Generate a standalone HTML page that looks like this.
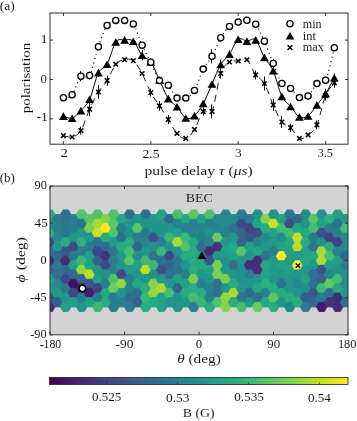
<!DOCTYPE html>
<html><head><meta charset="utf-8"><style>
html,body{margin:0;padding:0;background:#fff;width:357px;height:421px;overflow:hidden;}
svg{display:block;}
</style></head><body>
<svg width="357" height="421" viewBox="0 0 357 421" style="will-change:transform">
<rect width="357" height="421" fill="#fff"/>
<defs><clipPath id="cp1"><rect x="50" y="13" width="298" height="131.2"/></clipPath></defs>
<g clip-path="url(#cp1)">
<path d="M63.40 97.80 C64.86 97.28 69.23 98.30 72.14 94.70 C75.05 91.10 77.97 79.40 80.88 76.20 C83.79 73.00 86.71 80.40 89.62 75.50 C92.53 70.60 95.45 55.15 98.36 46.80 C101.27 38.45 104.19 29.80 107.10 25.40 C110.01 21.00 112.93 21.23 115.84 20.40 C118.75 19.57 121.67 19.80 124.58 20.40 C127.49 21.00 130.41 19.85 133.32 24.00 C136.23 28.15 139.15 38.93 142.06 45.30 C144.97 51.67 147.89 56.32 150.80 62.20 C153.71 68.08 156.63 76.75 159.54 80.60 C162.45 84.45 165.37 82.38 168.28 85.30 C171.19 88.22 174.11 95.97 177.02 98.10 C179.93 100.23 182.85 99.38 185.76 98.10 C188.67 96.82 191.59 95.23 194.50 90.40 C197.41 85.57 200.33 74.78 203.24 69.10 C206.15 63.42 209.07 61.52 211.98 56.30 C214.89 51.08 217.81 42.78 220.72 37.80 C223.63 32.82 226.55 29.02 229.46 26.40 C232.37 23.78 235.29 23.12 238.20 22.10 C241.11 21.08 244.03 19.95 246.94 20.30 C249.85 20.65 252.77 20.70 255.68 24.20 C258.59 27.70 261.51 34.77 264.42 41.30 C267.33 47.83 270.25 56.37 273.16 63.40 C276.07 70.43 278.99 79.33 281.90 83.50 C284.81 87.67 287.73 86.05 290.64 88.40 C293.55 90.75 296.47 96.33 299.38 97.60 C302.29 98.87 305.21 98.33 308.12 96.00 C311.03 93.67 313.95 86.22 316.86 83.60 C319.77 80.98 322.69 86.27 325.60 80.30 C328.51 74.33 332.88 53.22 334.34 47.80" fill="none" stroke="#000" stroke-width="1.1" stroke-dasharray="1.1 3.3" stroke-linecap="butt"/>
<path d="M63.40 116.10 C64.86 116.45 69.23 119.12 72.14 118.20 C75.05 117.28 77.97 113.77 80.88 110.60 C83.79 107.43 86.71 105.50 89.62 99.20 C92.53 92.90 95.45 78.63 98.36 72.80 C101.27 66.97 104.19 69.33 107.10 64.20 C110.01 59.07 112.93 46.05 115.84 42.00 C118.75 37.95 121.67 40.02 124.58 39.90 C127.49 39.78 130.41 38.73 133.32 41.30 C136.23 43.87 139.15 51.85 142.06 55.30 C144.97 58.75 147.89 57.88 150.80 62.00 C153.71 66.12 156.63 73.90 159.54 80.00 C162.45 86.10 165.37 94.13 168.28 98.60 C171.19 103.07 174.11 103.57 177.02 106.80 C179.93 110.03 182.85 116.53 185.76 118.00 C188.67 119.47 191.59 118.02 194.50 115.60 C197.41 113.18 200.33 108.77 203.24 103.50 C206.15 98.23 209.07 90.50 211.98 84.00 C214.89 77.50 217.81 69.47 220.72 64.50 C223.63 59.53 226.55 58.42 229.46 54.20 C232.37 49.98 235.29 41.38 238.20 39.20 C241.11 37.02 244.03 40.98 246.94 41.10 C249.85 41.22 252.77 37.18 255.68 39.90 C258.59 42.62 261.51 52.27 264.42 57.40 C267.33 62.53 270.25 64.20 273.16 70.70 C276.07 77.20 278.99 90.43 281.90 96.40 C284.81 102.37 287.73 103.07 290.64 106.50 C293.55 109.93 296.47 115.42 299.38 117.00 C302.29 118.58 305.21 118.00 308.12 116.00 C311.03 114.00 313.95 108.73 316.86 105.00 C319.77 101.27 322.69 98.15 325.60 93.60 C328.51 89.05 332.88 80.35 334.34 77.70" fill="none" stroke="#000" stroke-width="1"/>
<path d="M63.40 135.60 C64.86 135.83 69.23 137.83 72.14 137.00 C75.05 136.17 77.97 135.23 80.88 130.60 C83.79 125.97 86.71 115.63 89.62 109.20 C92.53 102.77 95.45 96.77 98.36 92.00 C101.27 87.23 104.19 85.23 107.10 80.60 C110.01 75.97 112.93 67.68 115.84 64.20 C118.75 60.72 121.67 60.28 124.58 59.70 C127.49 59.12 130.41 58.40 133.32 60.70 C136.23 63.00 139.15 68.20 142.06 73.50 C144.97 78.80 147.89 87.10 150.80 92.50 C153.71 97.90 156.63 101.40 159.54 105.90 C162.45 110.40 165.37 114.92 168.28 119.50 C171.19 124.08 174.11 130.25 177.02 133.40 C179.93 136.55 182.85 139.07 185.76 138.40 C188.67 137.73 191.59 133.90 194.50 129.40 C197.41 124.90 200.33 114.40 203.24 111.40 C206.15 108.40 209.07 117.72 211.98 111.40 C214.89 105.08 217.81 81.73 220.72 73.50 C223.63 65.27 226.55 64.08 229.46 62.00 C232.37 59.92 235.29 61.37 238.20 61.00 C241.11 60.63 244.03 57.48 246.94 59.80 C249.85 62.12 252.77 70.95 255.68 74.90 C258.59 78.85 261.51 78.50 264.42 83.50 C267.33 88.50 270.25 98.48 273.16 104.90 C276.07 111.32 278.99 118.20 281.90 122.00 C284.81 125.80 287.73 124.97 290.64 127.70 C293.55 130.43 296.47 137.20 299.38 138.40 C302.29 139.60 305.21 137.15 308.12 134.90 C311.03 132.65 313.95 131.45 316.86 124.90 C319.77 118.35 322.69 102.62 325.60 95.60 C328.51 88.58 332.88 84.93 334.34 82.80" fill="none" stroke="#000" stroke-width="0.9" stroke-dasharray="7 5"/>
<path d="M80.5 71.2V81.2 M89.5 71.5V79.5 M150.5 58.7V65.7 M211.5 49.3V63.3 M220.5 33.8V41.8 M273.5 58.9V67.9 M98.5 68.8V76.8 M142.5 50.3V60.3 M150.5 58.0V66.0 M220.5 59.5V69.5 M229.5 50.2V58.2 M325.5 88.6V98.6 M334.5 73.7V81.7 M80.5 126.6V134.6 M89.5 102.2V116.2 M98.5 85.0V99.0 M107.5 75.6V85.6 M150.5 88.5V96.5 M159.5 100.9V110.9 M168.5 115.0V124.0 M203.5 107.4V115.4 M211.5 104.4V118.4 M220.5 68.5V78.5 M255.5 70.4V79.4 M264.5 76.5V90.5 M273.5 98.9V110.9 M281.5 116.0V128.0 M290.5 123.7V131.7 M316.5 120.4V129.4 M325.5 90.6V100.6 M334.5 77.8V87.8" fill="none" stroke="#000" stroke-width="1"/>
</g>
<path d="M61.1 133.3L65.7 137.9M61.1 137.9L65.7 133.3" stroke="#000" stroke-width="1.5" fill="none"/>
<path d="M69.8 134.7L74.4 139.3M69.8 139.3L74.4 134.7" stroke="#000" stroke-width="1.5" fill="none"/>
<path d="M78.6 128.3L83.2 132.9M78.6 132.9L83.2 128.3" stroke="#000" stroke-width="1.5" fill="none"/>
<path d="M87.3 106.9L91.9 111.5M87.3 111.5L91.9 106.9" stroke="#000" stroke-width="1.5" fill="none"/>
<path d="M96.1 89.7L100.7 94.3M96.1 94.3L100.7 89.7" stroke="#000" stroke-width="1.5" fill="none"/>
<path d="M104.8 78.3L109.4 82.9M104.8 82.9L109.4 78.3" stroke="#000" stroke-width="1.5" fill="none"/>
<path d="M113.5 61.9L118.1 66.5M113.5 66.5L118.1 61.9" stroke="#000" stroke-width="1.5" fill="none"/>
<path d="M122.3 57.4L126.9 62.0M122.3 62.0L126.9 57.4" stroke="#000" stroke-width="1.5" fill="none"/>
<path d="M131.0 58.4L135.6 63.0M131.0 63.0L135.6 58.4" stroke="#000" stroke-width="1.5" fill="none"/>
<path d="M139.8 71.2L144.4 75.8M139.8 75.8L144.4 71.2" stroke="#000" stroke-width="1.5" fill="none"/>
<path d="M148.5 90.2L153.1 94.8M148.5 94.8L153.1 90.2" stroke="#000" stroke-width="1.5" fill="none"/>
<path d="M157.2 103.6L161.8 108.2M157.2 108.2L161.8 103.6" stroke="#000" stroke-width="1.5" fill="none"/>
<path d="M166.0 117.2L170.6 121.8M166.0 121.8L170.6 117.2" stroke="#000" stroke-width="1.5" fill="none"/>
<path d="M174.7 131.1L179.3 135.7M174.7 135.7L179.3 131.1" stroke="#000" stroke-width="1.5" fill="none"/>
<path d="M183.5 136.1L188.1 140.7M183.5 140.7L188.1 136.1" stroke="#000" stroke-width="1.5" fill="none"/>
<path d="M192.2 127.1L196.8 131.7M192.2 131.7L196.8 127.1" stroke="#000" stroke-width="1.5" fill="none"/>
<path d="M200.9 109.1L205.5 113.7M200.9 113.7L205.5 109.1" stroke="#000" stroke-width="1.5" fill="none"/>
<path d="M209.7 109.1L214.3 113.7M209.7 113.7L214.3 109.1" stroke="#000" stroke-width="1.5" fill="none"/>
<path d="M218.4 71.2L223.0 75.8M218.4 75.8L223.0 71.2" stroke="#000" stroke-width="1.5" fill="none"/>
<path d="M227.2 59.7L231.8 64.3M227.2 64.3L231.8 59.7" stroke="#000" stroke-width="1.5" fill="none"/>
<path d="M235.9 58.7L240.5 63.3M235.9 63.3L240.5 58.7" stroke="#000" stroke-width="1.5" fill="none"/>
<path d="M244.6 57.5L249.2 62.1M244.6 62.1L249.2 57.5" stroke="#000" stroke-width="1.5" fill="none"/>
<path d="M253.4 72.6L258.0 77.2M253.4 77.2L258.0 72.6" stroke="#000" stroke-width="1.5" fill="none"/>
<path d="M262.1 81.2L266.7 85.8M262.1 85.8L266.7 81.2" stroke="#000" stroke-width="1.5" fill="none"/>
<path d="M270.9 102.6L275.5 107.2M270.9 107.2L275.5 102.6" stroke="#000" stroke-width="1.5" fill="none"/>
<path d="M279.6 119.7L284.2 124.3M279.6 124.3L284.2 119.7" stroke="#000" stroke-width="1.5" fill="none"/>
<path d="M288.3 125.4L292.9 130.0M288.3 130.0L292.9 125.4" stroke="#000" stroke-width="1.5" fill="none"/>
<path d="M297.1 136.1L301.7 140.7M297.1 140.7L301.7 136.1" stroke="#000" stroke-width="1.5" fill="none"/>
<path d="M305.8 132.6L310.4 137.2M305.8 137.2L310.4 132.6" stroke="#000" stroke-width="1.5" fill="none"/>
<path d="M314.6 122.6L319.2 127.2M314.6 127.2L319.2 122.6" stroke="#000" stroke-width="1.5" fill="none"/>
<path d="M323.3 93.3L327.9 97.9M323.3 97.9L327.9 93.3" stroke="#000" stroke-width="1.5" fill="none"/>
<path d="M332.0 80.5L336.6 85.1M332.0 85.1L336.6 80.5" stroke="#000" stroke-width="1.5" fill="none"/>
<path d="M63.4 112.3L67.8 119.9L59.0 119.9Z" fill="#000"/>
<path d="M72.1 114.4L76.5 122.0L67.7 122.0Z" fill="#000"/>
<path d="M80.9 106.8L85.3 114.4L76.5 114.4Z" fill="#000"/>
<path d="M89.6 95.4L94.0 103.0L85.2 103.0Z" fill="#000"/>
<path d="M98.4 69.0L102.8 76.6L94.0 76.6Z" fill="#000"/>
<path d="M107.1 60.4L111.5 68.0L102.7 68.0Z" fill="#000"/>
<path d="M115.8 38.2L120.2 45.8L111.4 45.8Z" fill="#000"/>
<path d="M124.6 36.1L129.0 43.7L120.2 43.7Z" fill="#000"/>
<path d="M133.3 37.5L137.7 45.1L128.9 45.1Z" fill="#000"/>
<path d="M142.1 51.5L146.5 59.1L137.7 59.1Z" fill="#000"/>
<path d="M150.8 58.2L155.2 65.8L146.4 65.8Z" fill="#000"/>
<path d="M159.5 76.2L163.9 83.8L155.1 83.8Z" fill="#000"/>
<path d="M168.3 94.8L172.7 102.4L163.9 102.4Z" fill="#000"/>
<path d="M177.0 103.0L181.4 110.6L172.6 110.6Z" fill="#000"/>
<path d="M185.8 114.2L190.2 121.8L181.4 121.8Z" fill="#000"/>
<path d="M194.5 111.8L198.9 119.4L190.1 119.4Z" fill="#000"/>
<path d="M203.2 99.7L207.6 107.3L198.8 107.3Z" fill="#000"/>
<path d="M212.0 80.2L216.4 87.8L207.6 87.8Z" fill="#000"/>
<path d="M220.7 60.7L225.1 68.3L216.3 68.3Z" fill="#000"/>
<path d="M229.5 50.4L233.9 58.0L225.1 58.0Z" fill="#000"/>
<path d="M238.2 35.4L242.6 43.0L233.8 43.0Z" fill="#000"/>
<path d="M246.9 37.3L251.3 44.9L242.5 44.9Z" fill="#000"/>
<path d="M255.7 36.1L260.1 43.7L251.3 43.7Z" fill="#000"/>
<path d="M264.4 53.6L268.8 61.2L260.0 61.2Z" fill="#000"/>
<path d="M273.2 66.9L277.6 74.5L268.8 74.5Z" fill="#000"/>
<path d="M281.9 92.6L286.3 100.2L277.5 100.2Z" fill="#000"/>
<path d="M290.6 102.7L295.0 110.3L286.2 110.3Z" fill="#000"/>
<path d="M299.4 113.2L303.8 120.8L295.0 120.8Z" fill="#000"/>
<path d="M308.1 112.2L312.5 119.8L303.7 119.8Z" fill="#000"/>
<path d="M316.9 101.2L321.3 108.8L312.5 108.8Z" fill="#000"/>
<path d="M325.6 89.8L330.0 97.4L321.2 97.4Z" fill="#000"/>
<path d="M334.3 73.9L338.7 81.5L329.9 81.5Z" fill="#000"/>
<circle cx="63.4" cy="97.8" r="3.1" fill="#fff" stroke="#000" stroke-width="1.3"/>
<circle cx="72.1" cy="94.7" r="3.1" fill="#fff" stroke="#000" stroke-width="1.3"/>
<circle cx="80.9" cy="76.2" r="3.1" fill="#fff" stroke="#000" stroke-width="1.3"/>
<circle cx="89.6" cy="75.5" r="3.1" fill="#fff" stroke="#000" stroke-width="1.3"/>
<circle cx="98.4" cy="46.8" r="3.1" fill="#fff" stroke="#000" stroke-width="1.3"/>
<circle cx="107.1" cy="25.4" r="3.1" fill="#fff" stroke="#000" stroke-width="1.3"/>
<circle cx="115.8" cy="20.4" r="3.1" fill="#fff" stroke="#000" stroke-width="1.3"/>
<circle cx="124.6" cy="20.4" r="3.1" fill="#fff" stroke="#000" stroke-width="1.3"/>
<circle cx="133.3" cy="24.0" r="3.1" fill="#fff" stroke="#000" stroke-width="1.3"/>
<circle cx="142.1" cy="45.3" r="3.1" fill="#fff" stroke="#000" stroke-width="1.3"/>
<circle cx="150.8" cy="62.2" r="3.1" fill="#fff" stroke="#000" stroke-width="1.3"/>
<circle cx="159.5" cy="80.6" r="3.1" fill="#fff" stroke="#000" stroke-width="1.3"/>
<circle cx="168.3" cy="85.3" r="3.1" fill="#fff" stroke="#000" stroke-width="1.3"/>
<circle cx="177.0" cy="98.1" r="3.1" fill="#fff" stroke="#000" stroke-width="1.3"/>
<circle cx="185.8" cy="98.1" r="3.1" fill="#fff" stroke="#000" stroke-width="1.3"/>
<circle cx="194.5" cy="90.4" r="3.1" fill="#fff" stroke="#000" stroke-width="1.3"/>
<circle cx="203.2" cy="69.1" r="3.1" fill="#fff" stroke="#000" stroke-width="1.3"/>
<circle cx="212.0" cy="56.3" r="3.1" fill="#fff" stroke="#000" stroke-width="1.3"/>
<circle cx="220.7" cy="37.8" r="3.1" fill="#fff" stroke="#000" stroke-width="1.3"/>
<circle cx="229.5" cy="26.4" r="3.1" fill="#fff" stroke="#000" stroke-width="1.3"/>
<circle cx="238.2" cy="22.1" r="3.1" fill="#fff" stroke="#000" stroke-width="1.3"/>
<circle cx="246.9" cy="20.3" r="3.1" fill="#fff" stroke="#000" stroke-width="1.3"/>
<circle cx="255.7" cy="24.2" r="3.1" fill="#fff" stroke="#000" stroke-width="1.3"/>
<circle cx="264.4" cy="41.3" r="3.1" fill="#fff" stroke="#000" stroke-width="1.3"/>
<circle cx="273.2" cy="63.4" r="3.1" fill="#fff" stroke="#000" stroke-width="1.3"/>
<circle cx="281.9" cy="83.5" r="3.1" fill="#fff" stroke="#000" stroke-width="1.3"/>
<circle cx="290.6" cy="88.4" r="3.1" fill="#fff" stroke="#000" stroke-width="1.3"/>
<circle cx="299.4" cy="97.6" r="3.1" fill="#fff" stroke="#000" stroke-width="1.3"/>
<circle cx="308.1" cy="96.0" r="3.1" fill="#fff" stroke="#000" stroke-width="1.3"/>
<circle cx="316.9" cy="83.6" r="3.1" fill="#fff" stroke="#000" stroke-width="1.3"/>
<circle cx="325.6" cy="80.3" r="3.1" fill="#fff" stroke="#000" stroke-width="1.3"/>
<circle cx="334.3" cy="47.8" r="3.1" fill="#fff" stroke="#000" stroke-width="1.3"/>
<rect x="50" y="13" width="298" height="131.2" fill="none" stroke="#333" stroke-width="1"/>
<path d="M63.4 144.2V141.2M63.4 13V16" stroke="#333" stroke-width="1"/>
<path d="M150.8 144.2V141.2M150.8 13V16" stroke="#333" stroke-width="1"/>
<path d="M238.2 144.2V141.2M238.2 13V16" stroke="#333" stroke-width="1"/>
<path d="M325.6 144.2V141.2M325.6 13V16" stroke="#333" stroke-width="1"/>
<path d="M50 118.9H53M348 118.9H345" stroke="#333" stroke-width="1"/>
<path d="M50 79.5H53M348 79.5H345" stroke="#333" stroke-width="1"/>
<path d="M50 40.1H53M348 40.1H345" stroke="#333" stroke-width="1"/>
<circle cx="290.0" cy="23.8" r="3.1" fill="#fff" stroke="#000" stroke-width="1.3"/>
<path d="M290.0 31.9L294.3 39.5L285.7 39.5Z" fill="#000"/>
<path d="M287.6 45.2L292.4 50.0M287.6 50.0L292.4 45.2" stroke="#000" stroke-width="1.5" fill="none"/>
<defs><clipPath id="cp2"><rect x="50" y="186" width="298" height="148.8"/></clipPath></defs>
<rect x="50" y="186" width="298" height="148.8" fill="#d3d3d3"/>
<g clip-path="url(#cp2)">
<polygon points="55.03,214.60 52.37,219.22 47.04,219.22 44.37,214.60 47.04,209.98 52.37,209.98" fill="#29ad80" stroke="#29ad80" stroke-width="0.9"/>
<polygon points="55.03,223.83 52.37,228.45 47.04,228.45 44.37,223.83 47.04,219.21 52.37,219.21" fill="#248a8d" stroke="#248a8d" stroke-width="0.9"/>
<polygon points="55.03,233.06 52.37,237.68 47.04,237.68 44.37,233.06 47.04,228.44 52.37,228.44" fill="#30b17c" stroke="#30b17c" stroke-width="0.9"/>
<polygon points="55.03,242.29 52.37,246.91 47.04,246.91 44.37,242.29 47.04,237.67 52.37,237.67" fill="#3f4988" stroke="#3f4988" stroke-width="0.9"/>
<polygon points="55.03,251.52 52.37,256.14 47.04,256.14 44.37,251.52 47.04,246.90 52.37,246.90" fill="#2f6c8e" stroke="#2f6c8e" stroke-width="0.9"/>
<polygon points="55.03,260.75 52.37,265.37 47.04,265.37 44.37,260.75 47.04,256.13 52.37,256.13" fill="#472a79" stroke="#472a79" stroke-width="0.9"/>
<polygon points="55.03,269.98 52.37,274.60 47.04,274.60 44.37,269.98 47.04,265.36 52.37,265.36" fill="#33648d" stroke="#33648d" stroke-width="0.9"/>
<polygon points="55.03,279.21 52.37,283.83 47.04,283.83 44.37,279.21 47.04,274.59 52.37,274.59" fill="#22a186" stroke="#22a186" stroke-width="0.9"/>
<polygon points="55.03,288.44 52.37,293.06 47.04,293.06 44.37,288.44 47.04,283.82 52.37,283.82" fill="#21968a" stroke="#21968a" stroke-width="0.9"/>
<polygon points="55.03,297.67 52.37,302.29 47.04,302.29 44.37,297.67 47.04,293.05 52.37,293.05" fill="#355f8d" stroke="#355f8d" stroke-width="0.9"/>
<polygon points="55.03,306.90 52.37,311.52 47.04,311.52 44.37,306.90 47.04,302.28 52.37,302.28" fill="#45317c" stroke="#45317c" stroke-width="0.9"/>
<polygon points="63.03,219.20 60.37,223.82 55.04,223.82 52.37,219.20 55.04,214.58 60.37,214.58" fill="#287d8e" stroke="#287d8e" stroke-width="0.9"/>
<polygon points="63.03,228.43 60.37,233.05 55.04,233.05 52.37,228.43 55.04,223.81 60.37,223.81" fill="#26828d" stroke="#26828d" stroke-width="0.9"/>
<polygon points="63.03,237.66 60.37,242.28 55.04,242.28 52.37,237.66 55.04,233.04 60.37,233.04" fill="#248a8d" stroke="#248a8d" stroke-width="0.9"/>
<polygon points="63.03,246.89 60.37,251.51 55.04,251.51 52.37,246.89 55.04,242.27 60.37,242.27" fill="#21968a" stroke="#21968a" stroke-width="0.9"/>
<polygon points="63.03,256.12 60.37,260.74 55.04,260.74 52.37,256.12 55.04,251.50 60.37,251.50" fill="#31698d" stroke="#31698d" stroke-width="0.9"/>
<polygon points="63.03,265.35 60.37,269.97 55.04,269.97 52.37,265.35 55.04,260.73 60.37,260.73" fill="#2a788e" stroke="#2a788e" stroke-width="0.9"/>
<polygon points="63.03,274.58 60.37,279.20 55.04,279.20 52.37,274.58 55.04,269.96 60.37,269.96" fill="#2d718e" stroke="#2d718e" stroke-width="0.9"/>
<polygon points="63.03,283.81 60.37,288.43 55.04,288.43 52.37,283.81 55.04,279.19 60.37,279.19" fill="#248a8d" stroke="#248a8d" stroke-width="0.9"/>
<polygon points="63.03,293.04 60.37,297.66 55.04,297.66 52.37,293.04 55.04,288.42 60.37,288.42" fill="#219a89" stroke="#219a89" stroke-width="0.9"/>
<polygon points="63.03,302.27 60.37,306.89 55.04,306.89 52.37,302.27 55.04,297.65 60.37,297.65" fill="#355f8d" stroke="#355f8d" stroke-width="0.9"/>
<polygon points="71.03,214.60 68.37,219.22 63.04,219.22 60.37,214.60 63.04,209.98 68.37,209.98" fill="#2d718e" stroke="#2d718e" stroke-width="0.9"/>
<polygon points="71.03,223.83 68.37,228.45 63.04,228.45 60.37,223.83 63.04,219.21 68.37,219.21" fill="#2a788e" stroke="#2a788e" stroke-width="0.9"/>
<polygon points="71.03,233.06 68.37,237.68 63.04,237.68 60.37,233.06 63.04,228.44 68.37,228.44" fill="#2a788e" stroke="#2a788e" stroke-width="0.9"/>
<polygon points="71.03,242.29 68.37,246.91 63.04,246.91 60.37,242.29 63.04,237.67 68.37,237.67" fill="#29ad80" stroke="#29ad80" stroke-width="0.9"/>
<polygon points="71.03,251.52 68.37,256.14 63.04,256.14 60.37,251.52 63.04,246.90 68.37,246.90" fill="#39578b" stroke="#39578b" stroke-width="0.9"/>
<polygon points="71.03,260.75 68.37,265.37 63.04,265.37 60.37,260.75 63.04,256.13 68.37,256.13" fill="#472a79" stroke="#472a79" stroke-width="0.9"/>
<polygon points="71.03,269.98 68.37,274.60 63.04,274.60 60.37,269.98 63.04,265.36 68.37,265.36" fill="#2f6c8e" stroke="#2f6c8e" stroke-width="0.9"/>
<polygon points="71.03,279.21 68.37,283.83 63.04,283.83 60.37,279.21 63.04,274.59 68.37,274.59" fill="#3f4988" stroke="#3f4988" stroke-width="0.9"/>
<polygon points="71.03,288.44 68.37,293.06 63.04,293.06 60.37,288.44 63.04,283.82 68.37,283.82" fill="#2a788e" stroke="#2a788e" stroke-width="0.9"/>
<polygon points="71.03,297.67 68.37,302.29 63.04,302.29 60.37,297.67 63.04,293.05 68.37,293.05" fill="#21968a" stroke="#21968a" stroke-width="0.9"/>
<polygon points="71.03,306.90 68.37,311.52 63.04,311.52 60.37,306.90 63.04,302.28 68.37,302.28" fill="#22a186" stroke="#22a186" stroke-width="0.9"/>
<polygon points="79.03,219.20 76.37,223.82 71.04,223.82 68.37,219.20 71.03,214.58 76.37,214.58" fill="#287d8e" stroke="#287d8e" stroke-width="0.9"/>
<polygon points="79.03,228.43 76.37,233.05 71.04,233.05 68.37,228.43 71.03,223.81 76.37,223.81" fill="#287d8e" stroke="#287d8e" stroke-width="0.9"/>
<polygon points="79.03,237.66 76.37,242.28 71.04,242.28 68.37,237.66 71.03,233.04 76.37,233.04" fill="#21968a" stroke="#21968a" stroke-width="0.9"/>
<polygon points="79.03,246.89 76.37,251.51 71.04,251.51 68.37,246.89 71.03,242.27 76.37,242.27" fill="#3f4988" stroke="#3f4988" stroke-width="0.9"/>
<polygon points="79.03,256.12 76.37,260.74 71.04,260.74 68.37,256.12 71.03,251.50 76.37,251.50" fill="#2a788e" stroke="#2a788e" stroke-width="0.9"/>
<polygon points="79.03,265.35 76.37,269.97 71.04,269.97 68.37,265.35 71.03,260.73 76.37,260.73" fill="#22a186" stroke="#22a186" stroke-width="0.9"/>
<polygon points="79.03,274.58 76.37,279.20 71.04,279.20 68.37,274.58 71.03,269.96 76.37,269.96" fill="#31698d" stroke="#31698d" stroke-width="0.9"/>
<polygon points="79.03,283.81 76.37,288.43 71.04,288.43 68.37,283.81 71.03,279.19 76.37,279.19" fill="#460f61" stroke="#460f61" stroke-width="0.9"/>
<polygon points="79.03,293.04 76.37,297.66 71.04,297.66 68.37,293.04 71.03,288.42 76.37,288.42" fill="#414487" stroke="#414487" stroke-width="0.9"/>
<polygon points="79.03,302.27 76.37,306.89 71.04,306.89 68.37,302.27 71.03,297.65 76.37,297.65" fill="#22a186" stroke="#22a186" stroke-width="0.9"/>
<polygon points="87.03,214.60 84.37,219.22 79.04,219.22 76.37,214.60 79.03,209.98 84.37,209.98" fill="#4fc36a" stroke="#4fc36a" stroke-width="0.9"/>
<polygon points="87.03,223.83 84.37,228.45 79.04,228.45 76.37,223.83 79.03,219.21 84.37,219.21" fill="#2d718e" stroke="#2d718e" stroke-width="0.9"/>
<polygon points="87.03,233.06 84.37,237.68 79.04,237.68 76.37,233.06 79.03,228.44 84.37,228.44" fill="#21968a" stroke="#21968a" stroke-width="0.9"/>
<polygon points="87.03,242.29 84.37,246.91 79.04,246.91 76.37,242.29 79.03,237.67 84.37,237.67" fill="#30b17c" stroke="#30b17c" stroke-width="0.9"/>
<polygon points="87.03,251.52 84.37,256.14 79.04,256.14 76.37,251.52 79.03,246.90 84.37,246.90" fill="#287d8e" stroke="#287d8e" stroke-width="0.9"/>
<polygon points="87.03,260.75 84.37,265.37 79.04,265.37 76.37,260.75 79.03,256.13 84.37,256.13" fill="#3ab876" stroke="#3ab876" stroke-width="0.9"/>
<polygon points="87.03,269.98 84.37,274.60 79.04,274.60 76.37,269.98 79.03,265.36 84.37,265.36" fill="#9cd83c" stroke="#9cd83c" stroke-width="0.9"/>
<polygon points="87.03,279.21 84.37,283.83 79.04,283.83 76.37,279.21 79.03,274.59 84.37,274.59" fill="#31698d" stroke="#31698d" stroke-width="0.9"/>
<polygon points="87.03,288.44 84.37,293.06 79.04,293.06 76.37,288.44 79.03,283.82 84.37,283.82" fill="#471a6b" stroke="#471a6b" stroke-width="0.9"/>
<polygon points="87.03,297.67 84.37,302.29 79.04,302.29 76.37,297.67 79.03,293.05 84.37,293.05" fill="#287d8e" stroke="#287d8e" stroke-width="0.9"/>
<polygon points="87.03,306.90 84.37,311.52 79.04,311.52 76.37,306.90 79.03,302.28 84.37,302.28" fill="#21968a" stroke="#21968a" stroke-width="0.9"/>
<polygon points="95.03,219.20 92.37,223.82 87.04,223.82 84.37,219.20 87.03,214.58 92.37,214.58" fill="#5ac664" stroke="#5ac664" stroke-width="0.9"/>
<polygon points="95.03,228.43 92.37,233.05 87.04,233.05 84.37,228.43 87.03,223.81 92.37,223.81" fill="#7ad151" stroke="#7ad151" stroke-width="0.9"/>
<polygon points="95.03,237.66 92.37,242.28 87.04,242.28 84.37,237.66 87.03,233.04 92.37,233.04" fill="#21968a" stroke="#21968a" stroke-width="0.9"/>
<polygon points="95.03,246.89 92.37,251.51 87.04,251.51 84.37,246.89 87.03,242.27 92.37,242.27" fill="#287d8e" stroke="#287d8e" stroke-width="0.9"/>
<polygon points="95.03,256.12 92.37,260.74 87.04,260.74 84.37,256.12 87.03,251.50 92.37,251.50" fill="#22a186" stroke="#22a186" stroke-width="0.9"/>
<polygon points="95.03,265.35 92.37,269.97 87.04,269.97 84.37,265.35 87.03,260.73 92.37,260.73" fill="#22a186" stroke="#22a186" stroke-width="0.9"/>
<polygon points="95.03,274.58 92.37,279.20 87.04,279.20 84.37,274.58 87.03,269.96 92.37,269.96" fill="#bddf26" stroke="#bddf26" stroke-width="0.9"/>
<polygon points="95.03,283.81 92.37,288.43 87.04,288.43 84.37,283.81 87.03,279.19 92.37,279.19" fill="#39578b" stroke="#39578b" stroke-width="0.9"/>
<polygon points="95.03,293.04 92.37,297.66 87.04,297.66 84.37,293.04 87.03,288.42 92.37,288.42" fill="#471a6b" stroke="#471a6b" stroke-width="0.9"/>
<polygon points="95.03,302.27 92.37,306.89 87.04,306.89 84.37,302.27 87.03,297.65 92.37,297.65" fill="#22a186" stroke="#22a186" stroke-width="0.9"/>
<polygon points="103.03,214.60 100.37,219.22 95.04,219.22 92.37,214.60 95.03,209.98 100.37,209.98" fill="#4fc36a" stroke="#4fc36a" stroke-width="0.9"/>
<polygon points="103.03,223.83 100.37,228.45 95.04,228.45 92.37,223.83 95.03,219.21 100.37,219.21" fill="#a9db33" stroke="#a9db33" stroke-width="0.9"/>
<polygon points="103.03,233.06 100.37,237.68 95.04,237.68 92.37,233.06 95.03,228.44 100.37,228.44" fill="#cae126" stroke="#cae126" stroke-width="0.9"/>
<polygon points="103.03,242.29 100.37,246.91 95.04,246.91 92.37,242.29 95.03,237.67 100.37,237.67" fill="#2d718e" stroke="#2d718e" stroke-width="0.9"/>
<polygon points="103.03,251.52 100.37,256.14 95.04,256.14 92.37,251.52 95.03,246.90 100.37,246.90" fill="#414487" stroke="#414487" stroke-width="0.9"/>
<polygon points="103.03,260.75 100.37,265.37 95.04,265.37 92.37,260.75 95.03,256.13 100.37,256.13" fill="#33648d" stroke="#33648d" stroke-width="0.9"/>
<polygon points="103.03,269.98 100.37,274.60 95.04,274.60 92.37,269.98 95.03,265.36 100.37,265.36" fill="#21968a" stroke="#21968a" stroke-width="0.9"/>
<polygon points="103.03,279.21 100.37,283.83 95.04,283.83 92.37,279.21 95.03,274.59 100.37,274.59" fill="#22a186" stroke="#22a186" stroke-width="0.9"/>
<polygon points="103.03,288.44 100.37,293.06 95.04,293.06 92.37,288.44 95.03,283.82 100.37,283.82" fill="#414487" stroke="#414487" stroke-width="0.9"/>
<polygon points="103.03,297.67 100.37,302.29 95.04,302.29 92.37,297.67 95.03,293.05 100.37,293.05" fill="#287d8e" stroke="#287d8e" stroke-width="0.9"/>
<polygon points="103.03,306.90 100.37,311.52 95.04,311.52 92.37,306.90 95.03,302.28 100.37,302.28" fill="#3ab876" stroke="#3ab876" stroke-width="0.9"/>
<polygon points="111.03,219.20 108.37,223.82 103.04,223.82 100.37,219.20 103.03,214.58 108.37,214.58" fill="#87d448" stroke="#87d448" stroke-width="0.9"/>
<polygon points="111.03,228.43 108.37,233.05 103.04,233.05 100.37,228.43 103.03,223.81 108.37,223.81" fill="#fde725" stroke="#fde725" stroke-width="0.9"/>
<polygon points="111.03,237.66 108.37,242.28 103.04,242.28 100.37,237.66 103.03,233.04 108.37,233.04" fill="#29ad80" stroke="#29ad80" stroke-width="0.9"/>
<polygon points="111.03,246.89 108.37,251.51 103.04,251.51 100.37,246.89 103.03,242.27 108.37,242.27" fill="#31698d" stroke="#31698d" stroke-width="0.9"/>
<polygon points="111.03,256.12 108.37,260.74 103.04,260.74 100.37,256.12 103.03,251.50 108.37,251.50" fill="#44347e" stroke="#44347e" stroke-width="0.9"/>
<polygon points="111.03,265.35 108.37,269.97 103.04,269.97 100.37,265.35 103.03,260.73 108.37,260.73" fill="#3f4988" stroke="#3f4988" stroke-width="0.9"/>
<polygon points="111.03,274.58 108.37,279.20 103.04,279.20 100.37,274.58 103.03,269.96 108.37,269.96" fill="#21918c" stroke="#21918c" stroke-width="0.9"/>
<polygon points="111.03,283.81 108.37,288.43 103.04,288.43 100.37,283.81 103.03,279.19 108.37,279.19" fill="#287d8e" stroke="#287d8e" stroke-width="0.9"/>
<polygon points="111.03,293.04 108.37,297.66 103.04,297.66 100.37,293.04 103.03,288.42 108.37,288.42" fill="#22a884" stroke="#22a884" stroke-width="0.9"/>
<polygon points="111.03,302.27 108.37,306.89 103.04,306.89 100.37,302.27 103.03,297.65 108.37,297.65" fill="#29ad80" stroke="#29ad80" stroke-width="0.9"/>
<polygon points="119.03,214.60 116.37,219.22 111.04,219.22 108.37,214.60 111.03,209.98 116.37,209.98" fill="#4fc36a" stroke="#4fc36a" stroke-width="0.9"/>
<polygon points="119.03,223.83 116.37,228.45 111.04,228.45 108.37,223.83 111.03,219.21 116.37,219.21" fill="#5ac664" stroke="#5ac664" stroke-width="0.9"/>
<polygon points="119.03,233.06 116.37,237.68 111.04,237.68 108.37,233.06 111.03,228.44 116.37,228.44" fill="#4fc36a" stroke="#4fc36a" stroke-width="0.9"/>
<polygon points="119.03,242.29 116.37,246.91 111.04,246.91 108.37,242.29 111.03,237.67 116.37,237.67" fill="#219a89" stroke="#219a89" stroke-width="0.9"/>
<polygon points="119.03,251.52 116.37,256.14 111.04,256.14 108.37,251.52 111.03,246.90 116.37,246.90" fill="#2a788e" stroke="#2a788e" stroke-width="0.9"/>
<polygon points="119.03,260.75 116.37,265.37 111.04,265.37 108.37,260.75 111.03,256.13 116.37,256.13" fill="#287d8e" stroke="#287d8e" stroke-width="0.9"/>
<polygon points="119.03,269.98 116.37,274.60 111.04,274.60 108.37,269.98 111.03,265.36 116.37,265.36" fill="#26828d" stroke="#26828d" stroke-width="0.9"/>
<polygon points="119.03,279.21 116.37,283.83 111.04,283.83 108.37,279.21 111.03,274.59 116.37,274.59" fill="#4fc36a" stroke="#4fc36a" stroke-width="0.9"/>
<polygon points="119.03,288.44 116.37,293.06 111.04,293.06 108.37,288.44 111.03,283.82 116.37,283.82" fill="#6acc5a" stroke="#6acc5a" stroke-width="0.9"/>
<polygon points="119.03,297.67 116.37,302.29 111.04,302.29 108.37,297.67 111.03,293.05 116.37,293.05" fill="#287d8e" stroke="#287d8e" stroke-width="0.9"/>
<polygon points="119.03,306.90 116.37,311.52 111.04,311.52 108.37,306.90 111.03,302.28 116.37,302.28" fill="#287d8e" stroke="#287d8e" stroke-width="0.9"/>
<polygon points="127.03,219.20 124.37,223.82 119.04,223.82 116.37,219.20 119.03,214.58 124.37,214.58" fill="#22a884" stroke="#22a884" stroke-width="0.9"/>
<polygon points="127.03,228.43 124.37,233.05 119.04,233.05 116.37,228.43 119.03,223.81 124.37,223.81" fill="#287d8e" stroke="#287d8e" stroke-width="0.9"/>
<polygon points="127.03,237.66 124.37,242.28 119.04,242.28 116.37,237.66 119.03,233.04 124.37,233.04" fill="#2d718e" stroke="#2d718e" stroke-width="0.9"/>
<polygon points="127.03,246.89 124.37,251.51 119.04,251.51 116.37,246.89 119.03,242.27 124.37,242.27" fill="#29ad80" stroke="#29ad80" stroke-width="0.9"/>
<polygon points="127.03,256.12 124.37,260.74 119.04,260.74 116.37,256.12 119.03,251.50 124.37,251.50" fill="#219a89" stroke="#219a89" stroke-width="0.9"/>
<polygon points="127.03,265.35 124.37,269.97 119.04,269.97 116.37,265.35 119.03,260.73 124.37,260.73" fill="#21968a" stroke="#21968a" stroke-width="0.9"/>
<polygon points="127.03,274.58 124.37,279.20 119.04,279.20 116.37,274.58 119.03,269.96 124.37,269.96" fill="#3f4988" stroke="#3f4988" stroke-width="0.9"/>
<polygon points="127.03,283.81 124.37,288.43 119.04,288.43 116.37,283.81 119.03,279.19 124.37,279.19" fill="#95d740" stroke="#95d740" stroke-width="0.9"/>
<polygon points="127.03,293.04 124.37,297.66 119.04,297.66 116.37,293.04 119.03,288.42 124.37,288.42" fill="#21968a" stroke="#21968a" stroke-width="0.9"/>
<polygon points="127.03,302.27 124.37,306.89 119.04,306.89 116.37,302.27 119.03,297.65 124.37,297.65" fill="#287d8e" stroke="#287d8e" stroke-width="0.9"/>
<polygon points="135.03,214.60 132.36,219.22 127.03,219.22 124.37,214.60 127.03,209.98 132.36,209.98" fill="#2d718e" stroke="#2d718e" stroke-width="0.9"/>
<polygon points="135.03,223.83 132.36,228.45 127.03,228.45 124.37,223.83 127.03,219.21 132.36,219.21" fill="#21968a" stroke="#21968a" stroke-width="0.9"/>
<polygon points="135.03,233.06 132.36,237.68 127.03,237.68 124.37,233.06 127.03,228.44 132.36,228.44" fill="#21918c" stroke="#21918c" stroke-width="0.9"/>
<polygon points="135.03,242.29 132.36,246.91 127.03,246.91 124.37,242.29 127.03,237.67 132.36,237.67" fill="#29ad80" stroke="#29ad80" stroke-width="0.9"/>
<polygon points="135.03,251.52 132.36,256.14 127.03,256.14 124.37,251.52 127.03,246.90 132.36,246.90" fill="#44bf70" stroke="#44bf70" stroke-width="0.9"/>
<polygon points="135.03,260.75 132.36,265.37 127.03,265.37 124.37,260.75 127.03,256.13 132.36,256.13" fill="#5ac664" stroke="#5ac664" stroke-width="0.9"/>
<polygon points="135.03,269.98 132.36,274.60 127.03,274.60 124.37,269.98 127.03,265.36 132.36,265.36" fill="#219a89" stroke="#219a89" stroke-width="0.9"/>
<polygon points="135.03,279.21 132.36,283.83 127.03,283.83 124.37,279.21 127.03,274.59 132.36,274.59" fill="#26828d" stroke="#26828d" stroke-width="0.9"/>
<polygon points="135.03,288.44 132.36,293.06 127.03,293.06 124.37,288.44 127.03,283.82 132.36,283.82" fill="#26828d" stroke="#26828d" stroke-width="0.9"/>
<polygon points="135.03,297.67 132.36,302.29 127.03,302.29 124.37,297.67 127.03,293.05 132.36,293.05" fill="#2d718e" stroke="#2d718e" stroke-width="0.9"/>
<polygon points="135.03,306.90 132.36,311.52 127.03,311.52 124.37,306.90 127.03,302.28 132.36,302.28" fill="#287d8e" stroke="#287d8e" stroke-width="0.9"/>
<polygon points="143.03,219.20 140.36,223.82 135.03,223.82 132.37,219.20 135.03,214.58 140.36,214.58" fill="#21968a" stroke="#21968a" stroke-width="0.9"/>
<polygon points="143.03,228.43 140.36,233.05 135.03,233.05 132.37,228.43 135.03,223.81 140.36,223.81" fill="#5ac664" stroke="#5ac664" stroke-width="0.9"/>
<polygon points="143.03,237.66 140.36,242.28 135.03,242.28 132.37,237.66 135.03,233.04 140.36,233.04" fill="#287d8e" stroke="#287d8e" stroke-width="0.9"/>
<polygon points="143.03,246.89 140.36,251.51 135.03,251.51 132.37,246.89 135.03,242.27 140.36,242.27" fill="#33648d" stroke="#33648d" stroke-width="0.9"/>
<polygon points="143.03,256.12 140.36,260.74 135.03,260.74 132.37,256.12 135.03,251.50 140.36,251.50" fill="#248a8d" stroke="#248a8d" stroke-width="0.9"/>
<polygon points="143.03,265.35 140.36,269.97 135.03,269.97 132.37,265.35 135.03,260.73 140.36,260.73" fill="#22a186" stroke="#22a186" stroke-width="0.9"/>
<polygon points="143.03,274.58 140.36,279.20 135.03,279.20 132.37,274.58 135.03,269.96 140.36,269.96" fill="#21968a" stroke="#21968a" stroke-width="0.9"/>
<polygon points="143.03,283.81 140.36,288.43 135.03,288.43 132.37,283.81 135.03,279.19 140.36,279.19" fill="#22a884" stroke="#22a884" stroke-width="0.9"/>
<polygon points="143.03,293.04 140.36,297.66 135.03,297.66 132.37,293.04 135.03,288.42 140.36,288.42" fill="#2d718e" stroke="#2d718e" stroke-width="0.9"/>
<polygon points="143.03,302.27 140.36,306.89 135.03,306.89 132.37,302.27 135.03,297.65 140.36,297.65" fill="#355f8d" stroke="#355f8d" stroke-width="0.9"/>
<polygon points="151.03,214.60 148.36,219.22 143.03,219.22 140.37,214.60 143.03,209.98 148.36,209.98" fill="#2d718e" stroke="#2d718e" stroke-width="0.9"/>
<polygon points="151.03,223.83 148.36,228.45 143.03,228.45 140.37,223.83 143.03,219.21 148.36,219.21" fill="#21968a" stroke="#21968a" stroke-width="0.9"/>
<polygon points="151.03,233.06 148.36,237.68 143.03,237.68 140.37,233.06 143.03,228.44 148.36,228.44" fill="#2a788e" stroke="#2a788e" stroke-width="0.9"/>
<polygon points="151.03,242.29 148.36,246.91 143.03,246.91 140.37,242.29 143.03,237.67 148.36,237.67" fill="#26828d" stroke="#26828d" stroke-width="0.9"/>
<polygon points="151.03,251.52 148.36,256.14 143.03,256.14 140.37,251.52 143.03,246.90 148.36,246.90" fill="#21968a" stroke="#21968a" stroke-width="0.9"/>
<polygon points="151.03,260.75 148.36,265.37 143.03,265.37 140.37,260.75 143.03,256.13 148.36,256.13" fill="#3dba74" stroke="#3dba74" stroke-width="0.9"/>
<polygon points="151.03,269.98 148.36,274.60 143.03,274.60 140.37,269.98 143.03,265.36 148.36,265.36" fill="#bddf26" stroke="#bddf26" stroke-width="0.9"/>
<polygon points="151.03,279.21 148.36,283.83 143.03,283.83 140.37,279.21 143.03,274.59 148.36,274.59" fill="#21968a" stroke="#21968a" stroke-width="0.9"/>
<polygon points="151.03,288.44 148.36,293.06 143.03,293.06 140.37,288.44 143.03,283.82 148.36,283.82" fill="#29ad80" stroke="#29ad80" stroke-width="0.9"/>
<polygon points="151.03,297.67 148.36,302.29 143.03,302.29 140.37,297.67 143.03,293.05 148.36,293.05" fill="#3ab876" stroke="#3ab876" stroke-width="0.9"/>
<polygon points="151.03,306.90 148.36,311.52 143.03,311.52 140.37,306.90 143.03,302.28 148.36,302.28" fill="#29ad80" stroke="#29ad80" stroke-width="0.9"/>
<polygon points="159.03,219.20 156.36,223.82 151.03,223.82 148.37,219.20 151.03,214.58 156.36,214.58" fill="#21968a" stroke="#21968a" stroke-width="0.9"/>
<polygon points="159.03,228.43 156.36,233.05 151.03,233.05 148.37,228.43 151.03,223.81 156.36,223.81" fill="#21968a" stroke="#21968a" stroke-width="0.9"/>
<polygon points="159.03,237.66 156.36,242.28 151.03,242.28 148.37,237.66 151.03,233.04 156.36,233.04" fill="#3c4f89" stroke="#3c4f89" stroke-width="0.9"/>
<polygon points="159.03,246.89 156.36,251.51 151.03,251.51 148.37,246.89 151.03,242.27 156.36,242.27" fill="#21918c" stroke="#21918c" stroke-width="0.9"/>
<polygon points="159.03,256.12 156.36,260.74 151.03,260.74 148.37,256.12 151.03,251.50 156.36,251.50" fill="#2a788e" stroke="#2a788e" stroke-width="0.9"/>
<polygon points="159.03,265.35 156.36,269.97 151.03,269.97 148.37,265.35 151.03,260.73 156.36,260.73" fill="#3ab876" stroke="#3ab876" stroke-width="0.9"/>
<polygon points="159.03,274.58 156.36,279.20 151.03,279.20 148.37,274.58 151.03,269.96 156.36,269.96" fill="#21918c" stroke="#21918c" stroke-width="0.9"/>
<polygon points="159.03,283.81 156.36,288.43 151.03,288.43 148.37,283.81 151.03,279.19 156.36,279.19" fill="#87d448" stroke="#87d448" stroke-width="0.9"/>
<polygon points="159.03,293.04 156.36,297.66 151.03,297.66 148.37,293.04 151.03,288.42 156.36,288.42" fill="#95d740" stroke="#95d740" stroke-width="0.9"/>
<polygon points="159.03,302.27 156.36,306.89 151.03,306.89 148.37,302.27 151.03,297.65 156.36,297.65" fill="#22a884" stroke="#22a884" stroke-width="0.9"/>
<polygon points="167.03,214.60 164.36,219.22 159.03,219.22 156.37,214.60 159.03,209.98 164.36,209.98" fill="#22a186" stroke="#22a186" stroke-width="0.9"/>
<polygon points="167.03,223.83 164.36,228.45 159.03,228.45 156.37,223.83 159.03,219.21 164.36,219.21" fill="#21968a" stroke="#21968a" stroke-width="0.9"/>
<polygon points="167.03,233.06 164.36,237.68 159.03,237.68 156.37,233.06 159.03,228.44 164.36,228.44" fill="#21968a" stroke="#21968a" stroke-width="0.9"/>
<polygon points="167.03,242.29 164.36,246.91 159.03,246.91 156.37,242.29 159.03,237.67 164.36,237.67" fill="#287d8e" stroke="#287d8e" stroke-width="0.9"/>
<polygon points="167.03,251.52 164.36,256.14 159.03,256.14 156.37,251.52 159.03,246.90 164.36,246.90" fill="#3ab876" stroke="#3ab876" stroke-width="0.9"/>
<polygon points="167.03,260.75 164.36,265.37 159.03,265.37 156.37,260.75 159.03,256.13 164.36,256.13" fill="#2d718e" stroke="#2d718e" stroke-width="0.9"/>
<polygon points="167.03,269.98 164.36,274.60 159.03,274.60 156.37,269.98 159.03,265.36 164.36,265.36" fill="#3c4f89" stroke="#3c4f89" stroke-width="0.9"/>
<polygon points="167.03,279.21 164.36,283.83 159.03,283.83 156.37,279.21 159.03,274.59 164.36,274.59" fill="#21968a" stroke="#21968a" stroke-width="0.9"/>
<polygon points="167.03,288.44 164.36,293.06 159.03,293.06 156.37,288.44 159.03,283.82 164.36,283.82" fill="#a9db33" stroke="#a9db33" stroke-width="0.9"/>
<polygon points="167.03,297.67 164.36,302.29 159.03,302.29 156.37,297.67 159.03,293.05 164.36,293.05" fill="#22a186" stroke="#22a186" stroke-width="0.9"/>
<polygon points="167.03,306.90 164.36,311.52 159.03,311.52 156.37,306.90 159.03,302.28 164.36,302.28" fill="#22a186" stroke="#22a186" stroke-width="0.9"/>
<polygon points="175.03,219.20 172.36,223.82 167.03,223.82 164.37,219.20 167.03,214.58 172.36,214.58" fill="#31698d" stroke="#31698d" stroke-width="0.9"/>
<polygon points="175.03,228.43 172.36,233.05 167.03,233.05 164.37,228.43 167.03,223.81 172.36,223.81" fill="#21968a" stroke="#21968a" stroke-width="0.9"/>
<polygon points="175.03,237.66 172.36,242.28 167.03,242.28 164.37,237.66 167.03,233.04 172.36,233.04" fill="#3ab876" stroke="#3ab876" stroke-width="0.9"/>
<polygon points="175.03,246.89 172.36,251.51 167.03,251.51 164.37,246.89 167.03,242.27 172.36,242.27" fill="#21968a" stroke="#21968a" stroke-width="0.9"/>
<polygon points="175.03,256.12 172.36,260.74 167.03,260.74 164.37,256.12 167.03,251.50 172.36,251.50" fill="#404788" stroke="#404788" stroke-width="0.9"/>
<polygon points="175.03,265.35 172.36,269.97 167.03,269.97 164.37,265.35 167.03,260.73 172.36,260.73" fill="#33648d" stroke="#33648d" stroke-width="0.9"/>
<polygon points="175.03,274.58 172.36,279.20 167.03,279.20 164.37,274.58 167.03,269.96 172.36,269.96" fill="#2d718e" stroke="#2d718e" stroke-width="0.9"/>
<polygon points="175.03,283.81 172.36,288.43 167.03,288.43 164.37,283.81 167.03,279.19 172.36,279.19" fill="#21968a" stroke="#21968a" stroke-width="0.9"/>
<polygon points="175.03,293.04 172.36,297.66 167.03,297.66 164.37,293.04 167.03,288.42 172.36,288.42" fill="#44bf70" stroke="#44bf70" stroke-width="0.9"/>
<polygon points="175.03,302.27 172.36,306.89 167.03,306.89 164.37,302.27 167.03,297.65 172.36,297.65" fill="#21968a" stroke="#21968a" stroke-width="0.9"/>
<polygon points="183.03,214.60 180.36,219.22 175.03,219.22 172.37,214.60 175.03,209.98 180.36,209.98" fill="#44bf70" stroke="#44bf70" stroke-width="0.9"/>
<polygon points="183.03,223.83 180.36,228.45 175.03,228.45 172.37,223.83 175.03,219.21 180.36,219.21" fill="#26828d" stroke="#26828d" stroke-width="0.9"/>
<polygon points="183.03,233.06 180.36,237.68 175.03,237.68 172.37,233.06 175.03,228.44 180.36,228.44" fill="#22a186" stroke="#22a186" stroke-width="0.9"/>
<polygon points="183.03,242.29 180.36,246.91 175.03,246.91 172.37,242.29 175.03,237.67 180.36,237.67" fill="#a9db33" stroke="#a9db33" stroke-width="0.9"/>
<polygon points="183.03,251.52 180.36,256.14 175.03,256.14 172.37,251.52 175.03,246.90 180.36,246.90" fill="#21968a" stroke="#21968a" stroke-width="0.9"/>
<polygon points="183.03,260.75 180.36,265.37 175.03,265.37 172.37,260.75 175.03,256.13 180.36,256.13" fill="#2a788e" stroke="#2a788e" stroke-width="0.9"/>
<polygon points="183.03,269.98 180.36,274.60 175.03,274.60 172.37,269.98 175.03,265.36 180.36,265.36" fill="#2d718e" stroke="#2d718e" stroke-width="0.9"/>
<polygon points="183.03,279.21 180.36,283.83 175.03,283.83 172.37,279.21 175.03,274.59 180.36,274.59" fill="#22a186" stroke="#22a186" stroke-width="0.9"/>
<polygon points="183.03,288.44 180.36,293.06 175.03,293.06 172.37,288.44 175.03,283.82 180.36,283.82" fill="#33648d" stroke="#33648d" stroke-width="0.9"/>
<polygon points="183.03,297.67 180.36,302.29 175.03,302.29 172.37,297.67 175.03,293.05 180.36,293.05" fill="#21918c" stroke="#21918c" stroke-width="0.9"/>
<polygon points="183.03,306.90 180.36,311.52 175.03,311.52 172.37,306.90 175.03,302.28 180.36,302.28" fill="#21968a" stroke="#21968a" stroke-width="0.9"/>
<polygon points="191.03,219.20 188.36,223.82 183.03,223.82 180.37,219.20 183.03,214.58 188.36,214.58" fill="#22a884" stroke="#22a884" stroke-width="0.9"/>
<polygon points="191.03,228.43 188.36,233.05 183.03,233.05 180.37,228.43 183.03,223.81 188.36,223.81" fill="#26828d" stroke="#26828d" stroke-width="0.9"/>
<polygon points="191.03,237.66 188.36,242.28 183.03,242.28 180.37,237.66 183.03,233.04 188.36,233.04" fill="#3ab876" stroke="#3ab876" stroke-width="0.9"/>
<polygon points="191.03,246.89 188.36,251.51 183.03,251.51 180.37,246.89 183.03,242.27 188.36,242.27" fill="#4fc36a" stroke="#4fc36a" stroke-width="0.9"/>
<polygon points="191.03,256.12 188.36,260.74 183.03,260.74 180.37,256.12 183.03,251.50 188.36,251.50" fill="#25aa82" stroke="#25aa82" stroke-width="0.9"/>
<polygon points="191.03,265.35 188.36,269.97 183.03,269.97 180.37,265.35 183.03,260.73 188.36,260.73" fill="#21968a" stroke="#21968a" stroke-width="0.9"/>
<polygon points="191.03,274.58 188.36,279.20 183.03,279.20 180.37,274.58 183.03,269.96 188.36,269.96" fill="#26828d" stroke="#26828d" stroke-width="0.9"/>
<polygon points="191.03,283.81 188.36,288.43 183.03,288.43 180.37,283.81 183.03,279.19 188.36,279.19" fill="#22a186" stroke="#22a186" stroke-width="0.9"/>
<polygon points="191.03,293.04 188.36,297.66 183.03,297.66 180.37,293.04 183.03,288.42 188.36,288.42" fill="#29ad80" stroke="#29ad80" stroke-width="0.9"/>
<polygon points="191.03,302.27 188.36,306.89 183.03,306.89 180.37,302.27 183.03,297.65 188.36,297.65" fill="#21968a" stroke="#21968a" stroke-width="0.9"/>
<polygon points="199.03,214.60 196.36,219.22 191.03,219.22 188.37,214.60 191.03,209.98 196.36,209.98" fill="#5ac664" stroke="#5ac664" stroke-width="0.9"/>
<polygon points="199.03,223.83 196.36,228.45 191.03,228.45 188.37,223.83 191.03,219.21 196.36,219.21" fill="#287d8e" stroke="#287d8e" stroke-width="0.9"/>
<polygon points="199.03,233.06 196.36,237.68 191.03,237.68 188.37,233.06 191.03,228.44 196.36,228.44" fill="#26828d" stroke="#26828d" stroke-width="0.9"/>
<polygon points="199.03,242.29 196.36,246.91 191.03,246.91 188.37,242.29 191.03,237.67 196.36,237.67" fill="#22a884" stroke="#22a884" stroke-width="0.9"/>
<polygon points="199.03,251.52 196.36,256.14 191.03,256.14 188.37,251.52 191.03,246.90 196.36,246.90" fill="#29ad80" stroke="#29ad80" stroke-width="0.9"/>
<polygon points="199.03,260.75 196.36,265.37 191.03,265.37 188.37,260.75 191.03,256.13 196.36,256.13" fill="#25aa82" stroke="#25aa82" stroke-width="0.9"/>
<polygon points="199.03,269.98 196.36,274.60 191.03,274.60 188.37,269.98 191.03,265.36 196.36,265.36" fill="#29ad80" stroke="#29ad80" stroke-width="0.9"/>
<polygon points="199.03,279.21 196.36,283.83 191.03,283.83 188.37,279.21 191.03,274.59 196.36,274.59" fill="#7ad151" stroke="#7ad151" stroke-width="0.9"/>
<polygon points="199.03,288.44 196.36,293.06 191.03,293.06 188.37,288.44 191.03,283.82 196.36,283.82" fill="#29ad80" stroke="#29ad80" stroke-width="0.9"/>
<polygon points="199.03,297.67 196.36,302.29 191.03,302.29 188.37,297.67 191.03,293.05 196.36,293.05" fill="#44bf70" stroke="#44bf70" stroke-width="0.9"/>
<polygon points="199.03,306.90 196.36,311.52 191.03,311.52 188.37,306.90 191.03,302.28 196.36,302.28" fill="#287d8e" stroke="#287d8e" stroke-width="0.9"/>
<polygon points="207.03,219.20 204.36,223.82 199.03,223.82 196.37,219.20 199.03,214.58 204.36,214.58" fill="#22a186" stroke="#22a186" stroke-width="0.9"/>
<polygon points="207.03,228.43 204.36,233.05 199.03,233.05 196.37,228.43 199.03,223.81 204.36,223.81" fill="#26828d" stroke="#26828d" stroke-width="0.9"/>
<polygon points="207.03,237.66 204.36,242.28 199.03,242.28 196.37,237.66 199.03,233.04 204.36,233.04" fill="#287d8e" stroke="#287d8e" stroke-width="0.9"/>
<polygon points="207.03,246.89 204.36,251.51 199.03,251.51 196.37,246.89 199.03,242.27 204.36,242.27" fill="#31698d" stroke="#31698d" stroke-width="0.9"/>
<polygon points="207.03,256.12 204.36,260.74 199.03,260.74 196.37,256.12 199.03,251.50 204.36,251.50" fill="#21968a" stroke="#21968a" stroke-width="0.9"/>
<polygon points="207.03,265.35 204.36,269.97 199.03,269.97 196.37,265.35 199.03,260.73 204.36,260.73" fill="#22a884" stroke="#22a884" stroke-width="0.9"/>
<polygon points="207.03,274.58 204.36,279.20 199.03,279.20 196.37,274.58 199.03,269.96 204.36,269.96" fill="#21968a" stroke="#21968a" stroke-width="0.9"/>
<polygon points="207.03,283.81 204.36,288.43 199.03,288.43 196.37,283.81 199.03,279.19 204.36,279.19" fill="#287d8e" stroke="#287d8e" stroke-width="0.9"/>
<polygon points="207.03,293.04 204.36,297.66 199.03,297.66 196.37,293.04 199.03,288.42 204.36,288.42" fill="#29ad80" stroke="#29ad80" stroke-width="0.9"/>
<polygon points="207.03,302.27 204.36,306.89 199.03,306.89 196.37,302.27 199.03,297.65 204.36,297.65" fill="#3ab876" stroke="#3ab876" stroke-width="0.9"/>
<polygon points="215.03,214.60 212.36,219.22 207.03,219.22 204.37,214.60 207.03,209.98 212.36,209.98" fill="#4fc36a" stroke="#4fc36a" stroke-width="0.9"/>
<polygon points="215.03,223.83 212.36,228.45 207.03,228.45 204.37,223.83 207.03,219.21 212.36,219.21" fill="#287d8e" stroke="#287d8e" stroke-width="0.9"/>
<polygon points="215.03,233.06 212.36,237.68 207.03,237.68 204.37,233.06 207.03,228.44 212.36,228.44" fill="#21918c" stroke="#21918c" stroke-width="0.9"/>
<polygon points="215.03,242.29 212.36,246.91 207.03,246.91 204.37,242.29 207.03,237.67 212.36,237.67" fill="#287d8e" stroke="#287d8e" stroke-width="0.9"/>
<polygon points="215.03,251.52 212.36,256.14 207.03,256.14 204.37,251.52 207.03,246.90 212.36,246.90" fill="#472a79" stroke="#472a79" stroke-width="0.9"/>
<polygon points="215.03,260.75 212.36,265.37 207.03,265.37 204.37,260.75 207.03,256.13 212.36,256.13" fill="#3b528a" stroke="#3b528a" stroke-width="0.9"/>
<polygon points="215.03,269.98 212.36,274.60 207.03,274.60 204.37,269.98 207.03,265.36 212.36,265.36" fill="#22a186" stroke="#22a186" stroke-width="0.9"/>
<polygon points="215.03,279.21 212.36,283.83 207.03,283.83 204.37,279.21 207.03,274.59 212.36,274.59" fill="#21968a" stroke="#21968a" stroke-width="0.9"/>
<polygon points="215.03,288.44 212.36,293.06 207.03,293.06 204.37,288.44 207.03,283.82 212.36,283.82" fill="#26828d" stroke="#26828d" stroke-width="0.9"/>
<polygon points="215.03,297.67 212.36,302.29 207.03,302.29 204.37,297.67 207.03,293.05 212.36,293.05" fill="#287d8e" stroke="#287d8e" stroke-width="0.9"/>
<polygon points="215.03,306.90 212.36,311.52 207.03,311.52 204.37,306.90 207.03,302.28 212.36,302.28" fill="#29ad80" stroke="#29ad80" stroke-width="0.9"/>
<polygon points="223.03,219.20 220.36,223.82 215.03,223.82 212.37,219.20 215.03,214.58 220.36,214.58" fill="#248a8d" stroke="#248a8d" stroke-width="0.9"/>
<polygon points="223.03,228.43 220.36,233.05 215.03,233.05 212.37,228.43 215.03,223.81 220.36,223.81" fill="#26828d" stroke="#26828d" stroke-width="0.9"/>
<polygon points="223.03,237.66 220.36,242.28 215.03,242.28 212.37,237.66 215.03,233.04 220.36,233.04" fill="#6acc5a" stroke="#6acc5a" stroke-width="0.9"/>
<polygon points="223.03,246.89 220.36,251.51 215.03,251.51 212.37,246.89 215.03,242.27 220.36,242.27" fill="#45317c" stroke="#45317c" stroke-width="0.9"/>
<polygon points="223.03,256.12 220.36,260.74 215.03,260.74 212.37,256.12 215.03,251.50 220.36,251.50" fill="#21968a" stroke="#21968a" stroke-width="0.9"/>
<polygon points="223.03,265.35 220.36,269.97 215.03,269.97 212.37,265.35 215.03,260.73 220.36,260.73" fill="#7ad151" stroke="#7ad151" stroke-width="0.9"/>
<polygon points="223.03,274.58 220.36,279.20 215.03,279.20 212.37,274.58 215.03,269.96 220.36,269.96" fill="#7ad151" stroke="#7ad151" stroke-width="0.9"/>
<polygon points="223.03,283.81 220.36,288.43 215.03,288.43 212.37,283.81 215.03,279.19 220.36,279.19" fill="#2d718e" stroke="#2d718e" stroke-width="0.9"/>
<polygon points="223.03,293.04 220.36,297.66 215.03,297.66 212.37,293.04 215.03,288.42 220.36,288.42" fill="#2d718e" stroke="#2d718e" stroke-width="0.9"/>
<polygon points="223.03,302.27 220.36,306.89 215.03,306.89 212.37,302.27 215.03,297.65 220.36,297.65" fill="#4fc36a" stroke="#4fc36a" stroke-width="0.9"/>
<polygon points="231.03,214.60 228.36,219.22 223.03,219.22 220.37,214.60 223.03,209.98 228.36,209.98" fill="#248a8d" stroke="#248a8d" stroke-width="0.9"/>
<polygon points="231.03,223.83 228.36,228.45 223.03,228.45 220.37,223.83 223.03,219.21 228.36,219.21" fill="#248a8d" stroke="#248a8d" stroke-width="0.9"/>
<polygon points="231.03,233.06 228.36,237.68 223.03,237.68 220.37,233.06 223.03,228.44 228.36,228.44" fill="#26828d" stroke="#26828d" stroke-width="0.9"/>
<polygon points="231.03,242.29 228.36,246.91 223.03,246.91 220.37,242.29 223.03,237.67 228.36,237.67" fill="#219a89" stroke="#219a89" stroke-width="0.9"/>
<polygon points="231.03,251.52 228.36,256.14 223.03,256.14 220.37,251.52 223.03,246.90 228.36,246.90" fill="#22a186" stroke="#22a186" stroke-width="0.9"/>
<polygon points="231.03,260.75 228.36,265.37 223.03,265.37 220.37,260.75 223.03,256.13 228.36,256.13" fill="#21918c" stroke="#21918c" stroke-width="0.9"/>
<polygon points="231.03,269.98 228.36,274.60 223.03,274.60 220.37,269.98 223.03,265.36 228.36,265.36" fill="#21968a" stroke="#21968a" stroke-width="0.9"/>
<polygon points="231.03,279.21 228.36,283.83 223.03,283.83 220.37,279.21 223.03,274.59 228.36,274.59" fill="#7ad151" stroke="#7ad151" stroke-width="0.9"/>
<polygon points="231.03,288.44 228.36,293.06 223.03,293.06 220.37,288.44 223.03,283.82 228.36,283.82" fill="#21968a" stroke="#21968a" stroke-width="0.9"/>
<polygon points="231.03,297.67 228.36,302.29 223.03,302.29 220.37,297.67 223.03,293.05 228.36,293.05" fill="#95d740" stroke="#95d740" stroke-width="0.9"/>
<polygon points="231.03,306.90 228.36,311.52 223.03,311.52 220.37,306.90 223.03,302.28 228.36,302.28" fill="#87d448" stroke="#87d448" stroke-width="0.9"/>
<polygon points="239.03,219.20 236.36,223.82 231.03,223.82 228.37,219.20 231.03,214.58 236.36,214.58" fill="#248a8d" stroke="#248a8d" stroke-width="0.9"/>
<polygon points="239.03,228.43 236.36,233.05 231.03,233.05 228.37,228.43 231.03,223.81 236.36,223.81" fill="#2d718e" stroke="#2d718e" stroke-width="0.9"/>
<polygon points="239.03,237.66 236.36,242.28 231.03,242.28 228.37,237.66 231.03,233.04 236.36,233.04" fill="#21968a" stroke="#21968a" stroke-width="0.9"/>
<polygon points="239.03,246.89 236.36,251.51 231.03,251.51 228.37,246.89 231.03,242.27 236.36,242.27" fill="#22a884" stroke="#22a884" stroke-width="0.9"/>
<polygon points="239.03,256.12 236.36,260.74 231.03,260.74 228.37,256.12 231.03,251.50 236.36,251.50" fill="#22a386" stroke="#22a386" stroke-width="0.9"/>
<polygon points="239.03,265.35 236.36,269.97 231.03,269.97 228.37,265.35 231.03,260.73 236.36,260.73" fill="#2d718e" stroke="#2d718e" stroke-width="0.9"/>
<polygon points="239.03,274.58 236.36,279.20 231.03,279.20 228.37,274.58 231.03,269.96 236.36,269.96" fill="#21968a" stroke="#21968a" stroke-width="0.9"/>
<polygon points="239.03,283.81 236.36,288.43 231.03,288.43 228.37,283.81 231.03,279.19 236.36,279.19" fill="#29ad80" stroke="#29ad80" stroke-width="0.9"/>
<polygon points="239.03,293.04 236.36,297.66 231.03,297.66 228.37,293.04 231.03,288.42 236.36,288.42" fill="#a9db33" stroke="#a9db33" stroke-width="0.9"/>
<polygon points="239.03,302.27 236.36,306.89 231.03,306.89 228.37,302.27 231.03,297.65 236.36,297.65" fill="#29ad80" stroke="#29ad80" stroke-width="0.9"/>
<polygon points="247.03,214.60 244.36,219.22 239.03,219.22 236.37,214.60 239.03,209.98 244.36,209.98" fill="#287d8e" stroke="#287d8e" stroke-width="0.9"/>
<polygon points="247.03,223.83 244.36,228.45 239.03,228.45 236.37,223.83 239.03,219.21 244.36,219.21" fill="#3f4988" stroke="#3f4988" stroke-width="0.9"/>
<polygon points="247.03,233.06 244.36,237.68 239.03,237.68 236.37,233.06 239.03,228.44 244.36,228.44" fill="#33648d" stroke="#33648d" stroke-width="0.9"/>
<polygon points="247.03,242.29 244.36,246.91 239.03,246.91 236.37,242.29 239.03,237.67 244.36,237.67" fill="#33648d" stroke="#33648d" stroke-width="0.9"/>
<polygon points="247.03,251.52 244.36,256.14 239.03,256.14 236.37,251.52 239.03,246.90 244.36,246.90" fill="#5ac664" stroke="#5ac664" stroke-width="0.9"/>
<polygon points="247.03,260.75 244.36,265.37 239.03,265.37 236.37,260.75 239.03,256.13 244.36,256.13" fill="#21968a" stroke="#21968a" stroke-width="0.9"/>
<polygon points="247.03,269.98 244.36,274.60 239.03,274.60 236.37,269.98 239.03,265.36 244.36,265.36" fill="#21918c" stroke="#21918c" stroke-width="0.9"/>
<polygon points="247.03,279.21 244.36,283.83 239.03,283.83 236.37,279.21 239.03,274.59 244.36,274.59" fill="#21918c" stroke="#21918c" stroke-width="0.9"/>
<polygon points="247.03,288.44 244.36,293.06 239.03,293.06 236.37,288.44 239.03,283.82 244.36,283.82" fill="#21968a" stroke="#21968a" stroke-width="0.9"/>
<polygon points="247.03,297.67 244.36,302.29 239.03,302.29 236.37,297.67 239.03,293.05 244.36,293.05" fill="#2a788e" stroke="#2a788e" stroke-width="0.9"/>
<polygon points="247.03,306.90 244.36,311.52 239.03,311.52 236.37,306.90 239.03,302.28 244.36,302.28" fill="#44bf70" stroke="#44bf70" stroke-width="0.9"/>
<polygon points="255.03,219.20 252.36,223.82 247.03,223.82 244.37,219.20 247.03,214.58 252.36,214.58" fill="#287d8e" stroke="#287d8e" stroke-width="0.9"/>
<polygon points="255.03,228.43 252.36,233.05 247.03,233.05 244.37,228.43 247.03,223.81 252.36,223.81" fill="#414487" stroke="#414487" stroke-width="0.9"/>
<polygon points="255.03,237.66 252.36,242.28 247.03,242.28 244.37,237.66 247.03,233.04 252.36,233.04" fill="#39578b" stroke="#39578b" stroke-width="0.9"/>
<polygon points="255.03,246.89 252.36,251.51 247.03,251.51 244.37,246.89 247.03,242.27 252.36,242.27" fill="#22a186" stroke="#22a186" stroke-width="0.9"/>
<polygon points="255.03,256.12 252.36,260.74 247.03,260.74 244.37,256.12 247.03,251.50 252.36,251.50" fill="#21968a" stroke="#21968a" stroke-width="0.9"/>
<polygon points="255.03,265.35 252.36,269.97 247.03,269.97 244.37,265.35 247.03,260.73 252.36,260.73" fill="#472a79" stroke="#472a79" stroke-width="0.9"/>
<polygon points="255.03,274.58 252.36,279.20 247.03,279.20 244.37,274.58 247.03,269.96 252.36,269.96" fill="#287d8e" stroke="#287d8e" stroke-width="0.9"/>
<polygon points="255.03,283.81 252.36,288.43 247.03,288.43 244.37,283.81 247.03,279.19 252.36,279.19" fill="#21968a" stroke="#21968a" stroke-width="0.9"/>
<polygon points="255.03,293.04 252.36,297.66 247.03,297.66 244.37,293.04 247.03,288.42 252.36,288.42" fill="#31698d" stroke="#31698d" stroke-width="0.9"/>
<polygon points="255.03,302.27 252.36,306.89 247.03,306.89 244.37,302.27 247.03,297.65 252.36,297.65" fill="#21968a" stroke="#21968a" stroke-width="0.9"/>
<polygon points="263.03,214.60 260.37,219.22 255.03,219.22 252.37,214.60 255.03,209.98 260.37,209.98" fill="#21918c" stroke="#21918c" stroke-width="0.9"/>
<polygon points="263.03,223.83 260.37,228.45 255.03,228.45 252.37,223.83 255.03,219.21 260.37,219.21" fill="#22a884" stroke="#22a884" stroke-width="0.9"/>
<polygon points="263.03,233.06 260.37,237.68 255.03,237.68 252.37,233.06 255.03,228.44 260.37,228.44" fill="#3c4f89" stroke="#3c4f89" stroke-width="0.9"/>
<polygon points="263.03,242.29 260.37,246.91 255.03,246.91 252.37,242.29 255.03,237.67 260.37,237.67" fill="#26828d" stroke="#26828d" stroke-width="0.9"/>
<polygon points="263.03,251.52 260.37,256.14 255.03,256.14 252.37,251.52 255.03,246.90 260.37,246.90" fill="#22a884" stroke="#22a884" stroke-width="0.9"/>
<polygon points="263.03,260.75 260.37,265.37 255.03,265.37 252.37,260.75 255.03,256.13 260.37,256.13" fill="#472a79" stroke="#472a79" stroke-width="0.9"/>
<polygon points="263.03,269.98 260.37,274.60 255.03,274.60 252.37,269.98 255.03,265.36 260.37,265.36" fill="#472a79" stroke="#472a79" stroke-width="0.9"/>
<polygon points="263.03,279.21 260.37,283.83 255.03,283.83 252.37,279.21 255.03,274.59 260.37,274.59" fill="#21968a" stroke="#21968a" stroke-width="0.9"/>
<polygon points="263.03,288.44 260.37,293.06 255.03,293.06 252.37,288.44 255.03,283.82 260.37,283.82" fill="#22a884" stroke="#22a884" stroke-width="0.9"/>
<polygon points="263.03,297.67 260.37,302.29 255.03,302.29 252.37,297.67 255.03,293.05 260.37,293.05" fill="#2d718e" stroke="#2d718e" stroke-width="0.9"/>
<polygon points="263.03,306.90 260.37,311.52 255.03,311.52 252.37,306.90 255.03,302.28 260.37,302.28" fill="#6acc5a" stroke="#6acc5a" stroke-width="0.9"/>
<polygon points="271.03,219.20 268.37,223.82 263.03,223.82 260.37,219.20 263.03,214.58 268.37,214.58" fill="#87d448" stroke="#87d448" stroke-width="0.9"/>
<polygon points="271.03,228.43 268.37,233.05 263.03,233.05 260.37,228.43 263.03,223.81 268.37,223.81" fill="#29ad80" stroke="#29ad80" stroke-width="0.9"/>
<polygon points="271.03,237.66 268.37,242.28 263.03,242.28 260.37,237.66 263.03,233.04 268.37,233.04" fill="#248a8d" stroke="#248a8d" stroke-width="0.9"/>
<polygon points="271.03,246.89 268.37,251.51 263.03,251.51 260.37,246.89 263.03,242.27 268.37,242.27" fill="#21968a" stroke="#21968a" stroke-width="0.9"/>
<polygon points="271.03,256.12 268.37,260.74 263.03,260.74 260.37,256.12 263.03,251.50 268.37,251.50" fill="#2c738e" stroke="#2c738e" stroke-width="0.9"/>
<polygon points="271.03,265.35 268.37,269.97 263.03,269.97 260.37,265.35 263.03,260.73 268.37,260.73" fill="#22a884" stroke="#22a884" stroke-width="0.9"/>
<polygon points="271.03,274.58 268.37,279.20 263.03,279.20 260.37,274.58 263.03,269.96 268.37,269.96" fill="#22a186" stroke="#22a186" stroke-width="0.9"/>
<polygon points="271.03,283.81 268.37,288.43 263.03,288.43 260.37,283.81 263.03,279.19 268.37,279.19" fill="#30b17c" stroke="#30b17c" stroke-width="0.9"/>
<polygon points="271.03,293.04 268.37,297.66 263.03,297.66 260.37,293.04 263.03,288.42 268.37,288.42" fill="#26828d" stroke="#26828d" stroke-width="0.9"/>
<polygon points="271.03,302.27 268.37,306.89 263.03,306.89 260.37,302.27 263.03,297.65 268.37,297.65" fill="#22a884" stroke="#22a884" stroke-width="0.9"/>
<polygon points="279.03,214.60 276.37,219.22 271.03,219.22 268.37,214.60 271.03,209.98 276.37,209.98" fill="#21968a" stroke="#21968a" stroke-width="0.9"/>
<polygon points="279.03,223.83 276.37,228.45 271.03,228.45 268.37,223.83 271.03,219.21 276.37,219.21" fill="#cae126" stroke="#cae126" stroke-width="0.9"/>
<polygon points="279.03,233.06 276.37,237.68 271.03,237.68 268.37,233.06 271.03,228.44 276.37,228.44" fill="#22a186" stroke="#22a186" stroke-width="0.9"/>
<polygon points="279.03,242.29 276.37,246.91 271.03,246.91 268.37,242.29 271.03,237.67 276.37,237.67" fill="#219a89" stroke="#219a89" stroke-width="0.9"/>
<polygon points="279.03,251.52 276.37,256.14 271.03,256.14 268.37,251.52 271.03,246.90 276.37,246.90" fill="#26828d" stroke="#26828d" stroke-width="0.9"/>
<polygon points="279.03,260.75 276.37,265.37 271.03,265.37 268.37,260.75 271.03,256.13 276.37,256.13" fill="#219a89" stroke="#219a89" stroke-width="0.9"/>
<polygon points="279.03,269.98 276.37,274.60 271.03,274.60 268.37,269.98 271.03,265.36 276.37,265.36" fill="#219a89" stroke="#219a89" stroke-width="0.9"/>
<polygon points="279.03,279.21 276.37,283.83 271.03,283.83 268.37,279.21 271.03,274.59 276.37,274.59" fill="#21968a" stroke="#21968a" stroke-width="0.9"/>
<polygon points="279.03,288.44 276.37,293.06 271.03,293.06 268.37,288.44 271.03,283.82 276.37,283.82" fill="#29ad80" stroke="#29ad80" stroke-width="0.9"/>
<polygon points="279.03,297.67 276.37,302.29 271.03,302.29 268.37,297.67 271.03,293.05 276.37,293.05" fill="#5ac664" stroke="#5ac664" stroke-width="0.9"/>
<polygon points="279.03,306.90 276.37,311.52 271.03,311.52 268.37,306.90 271.03,302.28 276.37,302.28" fill="#29ad80" stroke="#29ad80" stroke-width="0.9"/>
<polygon points="287.03,219.20 284.37,223.82 279.03,223.82 276.37,219.20 279.03,214.58 284.37,214.58" fill="#22a186" stroke="#22a186" stroke-width="0.9"/>
<polygon points="287.03,228.43 284.37,233.05 279.03,233.05 276.37,228.43 279.03,223.81 284.37,223.81" fill="#44bf70" stroke="#44bf70" stroke-width="0.9"/>
<polygon points="287.03,237.66 284.37,242.28 279.03,242.28 276.37,237.66 279.03,233.04 284.37,233.04" fill="#21918c" stroke="#21918c" stroke-width="0.9"/>
<polygon points="287.03,246.89 284.37,251.51 279.03,251.51 276.37,246.89 279.03,242.27 284.37,242.27" fill="#22a186" stroke="#22a186" stroke-width="0.9"/>
<polygon points="287.03,256.12 284.37,260.74 279.03,260.74 276.37,256.12 279.03,251.50 284.37,251.50" fill="#fde725" stroke="#fde725" stroke-width="0.9"/>
<polygon points="287.03,265.35 284.37,269.97 279.03,269.97 276.37,265.35 279.03,260.73 284.37,260.73" fill="#22a186" stroke="#22a186" stroke-width="0.9"/>
<polygon points="287.03,274.58 284.37,279.20 279.03,279.20 276.37,274.58 279.03,269.96 284.37,269.96" fill="#21968a" stroke="#21968a" stroke-width="0.9"/>
<polygon points="287.03,283.81 284.37,288.43 279.03,288.43 276.37,283.81 279.03,279.19 284.37,279.19" fill="#2d718e" stroke="#2d718e" stroke-width="0.9"/>
<polygon points="287.03,293.04 284.37,297.66 279.03,297.66 276.37,293.04 279.03,288.42 284.37,288.42" fill="#29ad80" stroke="#29ad80" stroke-width="0.9"/>
<polygon points="287.03,302.27 284.37,306.89 279.03,306.89 276.37,302.27 279.03,297.65 284.37,297.65" fill="#21968a" stroke="#21968a" stroke-width="0.9"/>
<polygon points="295.03,214.60 292.37,219.22 287.03,219.22 284.37,214.60 287.03,209.98 292.37,209.98" fill="#2a788e" stroke="#2a788e" stroke-width="0.9"/>
<polygon points="295.03,223.83 292.37,228.45 287.03,228.45 284.37,223.83 287.03,219.21 292.37,219.21" fill="#3c4f89" stroke="#3c4f89" stroke-width="0.9"/>
<polygon points="295.03,233.06 292.37,237.68 287.03,237.68 284.37,233.06 287.03,228.44 292.37,228.44" fill="#44bf70" stroke="#44bf70" stroke-width="0.9"/>
<polygon points="295.03,242.29 292.37,246.91 287.03,246.91 284.37,242.29 287.03,237.67 292.37,237.67" fill="#22a884" stroke="#22a884" stroke-width="0.9"/>
<polygon points="295.03,251.52 292.37,256.14 287.03,256.14 284.37,251.52 287.03,246.90 292.37,246.90" fill="#22a186" stroke="#22a186" stroke-width="0.9"/>
<polygon points="295.03,260.75 292.37,265.37 287.03,265.37 284.37,260.75 287.03,256.13 292.37,256.13" fill="#219a89" stroke="#219a89" stroke-width="0.9"/>
<polygon points="295.03,269.98 292.37,274.60 287.03,274.60 284.37,269.98 287.03,265.36 292.37,265.36" fill="#22a186" stroke="#22a186" stroke-width="0.9"/>
<polygon points="295.03,279.21 292.37,283.83 287.03,283.83 284.37,279.21 287.03,274.59 292.37,274.59" fill="#21968a" stroke="#21968a" stroke-width="0.9"/>
<polygon points="295.03,288.44 292.37,293.06 287.03,293.06 284.37,288.44 287.03,283.82 292.37,283.82" fill="#21968a" stroke="#21968a" stroke-width="0.9"/>
<polygon points="295.03,297.67 292.37,302.29 287.03,302.29 284.37,297.67 287.03,293.05 292.37,293.05" fill="#29ad80" stroke="#29ad80" stroke-width="0.9"/>
<polygon points="295.03,306.90 292.37,311.52 287.03,311.52 284.37,306.90 287.03,302.28 292.37,302.28" fill="#248a8d" stroke="#248a8d" stroke-width="0.9"/>
<polygon points="303.03,219.20 300.37,223.82 295.03,223.82 292.37,219.20 295.03,214.58 300.37,214.58" fill="#31698d" stroke="#31698d" stroke-width="0.9"/>
<polygon points="303.03,228.43 300.37,233.05 295.03,233.05 292.37,228.43 295.03,223.81 300.37,223.81" fill="#22a884" stroke="#22a884" stroke-width="0.9"/>
<polygon points="303.03,237.66 300.37,242.28 295.03,242.28 292.37,237.66 295.03,233.04 300.37,233.04" fill="#bddf26" stroke="#bddf26" stroke-width="0.9"/>
<polygon points="303.03,246.89 300.37,251.51 295.03,251.51 292.37,246.89 295.03,242.27 300.37,242.27" fill="#bddf26" stroke="#bddf26" stroke-width="0.9"/>
<polygon points="303.03,256.12 300.37,260.74 295.03,260.74 292.37,256.12 295.03,251.50 300.37,251.50" fill="#21968a" stroke="#21968a" stroke-width="0.9"/>
<polygon points="303.03,265.35 300.37,269.97 295.03,269.97 292.37,265.35 295.03,260.73 300.37,260.73" fill="#fde725" stroke="#fde725" stroke-width="0.9"/>
<polygon points="303.03,274.58 300.37,279.20 295.03,279.20 292.37,274.58 295.03,269.96 300.37,269.96" fill="#21968a" stroke="#21968a" stroke-width="0.9"/>
<polygon points="303.03,283.81 300.37,288.43 295.03,288.43 292.37,283.81 295.03,279.19 300.37,279.19" fill="#248a8d" stroke="#248a8d" stroke-width="0.9"/>
<polygon points="303.03,293.04 300.37,297.66 295.03,297.66 292.37,293.04 295.03,288.42 300.37,288.42" fill="#21968a" stroke="#21968a" stroke-width="0.9"/>
<polygon points="303.03,302.27 300.37,306.89 295.03,306.89 292.37,302.27 295.03,297.65 300.37,297.65" fill="#29ad80" stroke="#29ad80" stroke-width="0.9"/>
<polygon points="311.03,214.60 308.37,219.22 303.03,219.22 300.37,214.60 303.03,209.98 308.37,209.98" fill="#248a8d" stroke="#248a8d" stroke-width="0.9"/>
<polygon points="311.03,223.83 308.37,228.45 303.03,228.45 300.37,223.83 303.03,219.21 308.37,219.21" fill="#21968a" stroke="#21968a" stroke-width="0.9"/>
<polygon points="311.03,233.06 308.37,237.68 303.03,237.68 300.37,233.06 303.03,228.44 308.37,228.44" fill="#22a884" stroke="#22a884" stroke-width="0.9"/>
<polygon points="311.03,242.29 308.37,246.91 303.03,246.91 300.37,242.29 303.03,237.67 308.37,237.67" fill="#29ad80" stroke="#29ad80" stroke-width="0.9"/>
<polygon points="311.03,251.52 308.37,256.14 303.03,256.14 300.37,251.52 303.03,246.90 308.37,246.90" fill="#22a186" stroke="#22a186" stroke-width="0.9"/>
<polygon points="311.03,260.75 308.37,265.37 303.03,265.37 300.37,260.75 303.03,256.13 308.37,256.13" fill="#22a884" stroke="#22a884" stroke-width="0.9"/>
<polygon points="311.03,269.98 308.37,274.60 303.03,274.60 300.37,269.98 303.03,265.36 308.37,265.36" fill="#21968a" stroke="#21968a" stroke-width="0.9"/>
<polygon points="311.03,279.21 308.37,283.83 303.03,283.83 300.37,279.21 303.03,274.59 308.37,274.59" fill="#22a186" stroke="#22a186" stroke-width="0.9"/>
<polygon points="311.03,288.44 308.37,293.06 303.03,293.06 300.37,288.44 303.03,283.82 308.37,283.82" fill="#21918c" stroke="#21918c" stroke-width="0.9"/>
<polygon points="311.03,297.67 308.37,302.29 303.03,302.29 300.37,297.67 303.03,293.05 308.37,293.05" fill="#355f8d" stroke="#355f8d" stroke-width="0.9"/>
<polygon points="311.03,306.90 308.37,311.52 303.03,311.52 300.37,306.90 303.03,302.28 308.37,302.28" fill="#287d8e" stroke="#287d8e" stroke-width="0.9"/>
<polygon points="319.03,219.20 316.37,223.82 311.03,223.82 308.37,219.20 311.03,214.58 316.37,214.58" fill="#5ac664" stroke="#5ac664" stroke-width="0.9"/>
<polygon points="319.03,228.43 316.37,233.05 311.03,233.05 308.37,228.43 311.03,223.81 316.37,223.81" fill="#44bf70" stroke="#44bf70" stroke-width="0.9"/>
<polygon points="319.03,237.66 316.37,242.28 311.03,242.28 308.37,237.66 311.03,233.04 316.37,233.04" fill="#287d8e" stroke="#287d8e" stroke-width="0.9"/>
<polygon points="319.03,246.89 316.37,251.51 311.03,251.51 308.37,246.89 311.03,242.27 316.37,242.27" fill="#2d718e" stroke="#2d718e" stroke-width="0.9"/>
<polygon points="319.03,256.12 316.37,260.74 311.03,260.74 308.37,256.12 311.03,251.50 316.37,251.50" fill="#22a884" stroke="#22a884" stroke-width="0.9"/>
<polygon points="319.03,265.35 316.37,269.97 311.03,269.97 308.37,265.35 311.03,260.73 316.37,260.73" fill="#21968a" stroke="#21968a" stroke-width="0.9"/>
<polygon points="319.03,274.58 316.37,279.20 311.03,279.20 308.37,274.58 311.03,269.96 316.37,269.96" fill="#2d718e" stroke="#2d718e" stroke-width="0.9"/>
<polygon points="319.03,283.81 316.37,288.43 311.03,288.43 308.37,283.81 311.03,279.19 316.37,279.19" fill="#2d718e" stroke="#2d718e" stroke-width="0.9"/>
<polygon points="319.03,293.04 316.37,297.66 311.03,297.66 308.37,293.04 311.03,288.42 316.37,288.42" fill="#39578b" stroke="#39578b" stroke-width="0.9"/>
<polygon points="319.03,302.27 316.37,306.89 311.03,306.89 308.37,302.27 311.03,297.65 316.37,297.65" fill="#31698d" stroke="#31698d" stroke-width="0.9"/>
<polygon points="327.03,214.60 324.37,219.22 319.03,219.22 316.37,214.60 319.03,209.98 324.37,209.98" fill="#21968a" stroke="#21968a" stroke-width="0.9"/>
<polygon points="327.03,223.83 324.37,228.45 319.03,228.45 316.37,223.83 319.03,219.21 324.37,219.21" fill="#22a186" stroke="#22a186" stroke-width="0.9"/>
<polygon points="327.03,233.06 324.37,237.68 319.03,237.68 316.37,233.06 319.03,228.44 324.37,228.44" fill="#3c4f89" stroke="#3c4f89" stroke-width="0.9"/>
<polygon points="327.03,242.29 324.37,246.91 319.03,246.91 316.37,242.29 319.03,237.67 324.37,237.67" fill="#21918c" stroke="#21918c" stroke-width="0.9"/>
<polygon points="327.03,251.52 324.37,256.14 319.03,256.14 316.37,251.52 319.03,246.90 324.37,246.90" fill="#a9db33" stroke="#a9db33" stroke-width="0.9"/>
<polygon points="327.03,260.75 324.37,265.37 319.03,265.37 316.37,260.75 319.03,256.13 324.37,256.13" fill="#b0dc2f" stroke="#b0dc2f" stroke-width="0.9"/>
<polygon points="327.03,269.98 324.37,274.60 319.03,274.60 316.37,269.98 319.03,265.36 324.37,265.36" fill="#3a548b" stroke="#3a548b" stroke-width="0.9"/>
<polygon points="327.03,279.21 324.37,283.83 319.03,283.83 316.37,279.21 319.03,274.59 324.37,274.59" fill="#34628d" stroke="#34628d" stroke-width="0.9"/>
<polygon points="327.03,288.44 324.37,293.06 319.03,293.06 316.37,288.44 319.03,283.82 324.37,283.82" fill="#3dba74" stroke="#3dba74" stroke-width="0.9"/>
<polygon points="327.03,297.67 324.37,302.29 319.03,302.29 316.37,297.67 319.03,293.05 324.37,293.05" fill="#297b8e" stroke="#297b8e" stroke-width="0.9"/>
<polygon points="327.03,306.90 324.37,311.52 319.03,311.52 316.37,306.90 319.03,302.28 324.37,302.28" fill="#471a6b" stroke="#471a6b" stroke-width="0.9"/>
<polygon points="335.03,219.20 332.37,223.82 327.03,223.82 324.37,219.20 327.03,214.58 332.37,214.58" fill="#30b17c" stroke="#30b17c" stroke-width="0.9"/>
<polygon points="335.03,228.43 332.37,233.05 327.03,233.05 324.37,228.43 327.03,223.81 332.37,223.81" fill="#287d8e" stroke="#287d8e" stroke-width="0.9"/>
<polygon points="335.03,237.66 332.37,242.28 327.03,242.28 324.37,237.66 327.03,233.04 332.37,233.04" fill="#424185" stroke="#424185" stroke-width="0.9"/>
<polygon points="335.03,246.89 332.37,251.51 327.03,251.51 324.37,246.89 327.03,242.27 332.37,242.27" fill="#29ad80" stroke="#29ad80" stroke-width="0.9"/>
<polygon points="335.03,256.12 332.37,260.74 327.03,260.74 324.37,256.12 327.03,251.50 332.37,251.50" fill="#44bf70" stroke="#44bf70" stroke-width="0.9"/>
<polygon points="335.03,265.35 332.37,269.97 327.03,269.97 324.37,265.35 327.03,260.73 332.37,260.73" fill="#22a186" stroke="#22a186" stroke-width="0.9"/>
<polygon points="335.03,274.58 332.37,279.20 327.03,279.20 324.37,274.58 327.03,269.96 332.37,269.96" fill="#25878d" stroke="#25878d" stroke-width="0.9"/>
<polygon points="335.03,283.81 332.37,288.43 327.03,288.43 324.37,283.81 327.03,279.19 332.37,279.19" fill="#64ca5d" stroke="#64ca5d" stroke-width="0.9"/>
<polygon points="335.03,293.04 332.37,297.66 327.03,297.66 324.37,293.04 327.03,288.42 332.37,288.42" fill="#2d718e" stroke="#2d718e" stroke-width="0.9"/>
<polygon points="335.03,302.27 332.37,306.89 327.03,306.89 324.37,302.27 327.03,297.65 332.37,297.65" fill="#44347e" stroke="#44347e" stroke-width="0.9"/>
<polygon points="343.03,214.60 340.37,219.22 335.03,219.22 332.37,214.60 335.03,209.98 340.37,209.98" fill="#22a186" stroke="#22a186" stroke-width="0.9"/>
<polygon points="343.03,223.83 340.37,228.45 335.03,228.45 332.37,223.83 335.03,219.21 340.37,219.21" fill="#2d718e" stroke="#2d718e" stroke-width="0.9"/>
<polygon points="343.03,233.06 340.37,237.68 335.03,237.68 332.37,233.06 335.03,228.44 340.37,228.44" fill="#26828d" stroke="#26828d" stroke-width="0.9"/>
<polygon points="343.03,242.29 340.37,246.91 335.03,246.91 332.37,242.29 335.03,237.67 340.37,237.67" fill="#424185" stroke="#424185" stroke-width="0.9"/>
<polygon points="343.03,251.52 340.37,256.14 335.03,256.14 332.37,251.52 335.03,246.90 340.37,246.90" fill="#26828d" stroke="#26828d" stroke-width="0.9"/>
<polygon points="343.03,260.75 340.37,265.37 335.03,265.37 332.37,260.75 335.03,256.13 340.37,256.13" fill="#229f87" stroke="#229f87" stroke-width="0.9"/>
<polygon points="343.03,269.98 340.37,274.60 335.03,274.60 332.37,269.98 335.03,265.36 340.37,265.36" fill="#21968a" stroke="#21968a" stroke-width="0.9"/>
<polygon points="343.03,279.21 340.37,283.83 335.03,283.83 332.37,279.21 335.03,274.59 340.37,274.59" fill="#44bf70" stroke="#44bf70" stroke-width="0.9"/>
<polygon points="343.03,288.44 340.37,293.06 335.03,293.06 332.37,288.44 335.03,283.82 340.37,283.82" fill="#22a884" stroke="#22a884" stroke-width="0.9"/>
<polygon points="343.03,297.67 340.37,302.29 335.03,302.29 332.37,297.67 335.03,293.05 340.37,293.05" fill="#472a79" stroke="#472a79" stroke-width="0.9"/>
<polygon points="343.03,306.90 340.37,311.52 335.03,311.52 332.37,306.90 335.03,302.28 340.37,302.28" fill="#472a79" stroke="#472a79" stroke-width="0.9"/>
<polygon points="351.03,219.20 348.37,223.82 343.03,223.82 340.37,219.20 343.03,214.58 348.37,214.58" fill="#21968a" stroke="#21968a" stroke-width="0.9"/>
<polygon points="351.03,228.43 348.37,233.05 343.03,233.05 340.37,228.43 343.03,223.81 348.37,223.81" fill="#44bf70" stroke="#44bf70" stroke-width="0.9"/>
<polygon points="351.03,237.66 348.37,242.28 343.03,242.28 340.37,237.66 343.03,233.04 348.37,233.04" fill="#248a8d" stroke="#248a8d" stroke-width="0.9"/>
<polygon points="351.03,246.89 348.37,251.51 343.03,251.51 340.37,246.89 343.03,242.27 348.37,242.27" fill="#248a8d" stroke="#248a8d" stroke-width="0.9"/>
<polygon points="351.03,256.12 348.37,260.74 343.03,260.74 340.37,256.12 343.03,251.50 348.37,251.50" fill="#2f6c8e" stroke="#2f6c8e" stroke-width="0.9"/>
<polygon points="351.03,265.35 348.37,269.97 343.03,269.97 340.37,265.35 343.03,260.73 348.37,260.73" fill="#287d8e" stroke="#287d8e" stroke-width="0.9"/>
<polygon points="351.03,274.58 348.37,279.20 343.03,279.20 340.37,274.58 343.03,269.96 348.37,269.96" fill="#21918c" stroke="#21918c" stroke-width="0.9"/>
<polygon points="351.03,283.81 348.37,288.43 343.03,288.43 340.37,283.81 343.03,279.19 348.37,279.19" fill="#21918c" stroke="#21918c" stroke-width="0.9"/>
<polygon points="351.03,293.04 348.37,297.66 343.03,297.66 340.37,293.04 343.03,288.42 348.37,288.42" fill="#21968a" stroke="#21968a" stroke-width="0.9"/>
<polygon points="351.03,302.27 348.37,306.89 343.03,306.89 340.37,302.27 343.03,297.65 348.37,297.65" fill="#2d718e" stroke="#2d718e" stroke-width="0.9"/>
</g>
<rect x="50" y="186" width="298" height="148.8" fill="none" stroke="#333" stroke-width="1"/>
<path d="M50.0 334.8V331.8M50.0 186V189" stroke="#333" stroke-width="1"/>
<path d="M124.5 334.8V331.8M124.5 186V189" stroke="#333" stroke-width="1"/>
<path d="M199.0 334.8V331.8M199.0 186V189" stroke="#333" stroke-width="1"/>
<path d="M273.5 334.8V331.8M273.5 186V189" stroke="#333" stroke-width="1"/>
<path d="M348.0 334.8V331.8M348.0 186V189" stroke="#333" stroke-width="1"/>
<path d="M50 334.8H53M348 334.8H345" stroke="#333" stroke-width="1"/>
<path d="M50 297.6H53M348 297.6H345" stroke="#333" stroke-width="1"/>
<path d="M50 260.4H53M348 260.4H345" stroke="#333" stroke-width="1"/>
<path d="M50 223.2H53M348 223.2H345" stroke="#333" stroke-width="1"/>
<path d="M50 186.0H53M348 186.0H345" stroke="#333" stroke-width="1"/>
<path d="M201.9 251.2L206.3 259L197.5 259Z" fill="#000"/>
<circle cx="82.4" cy="288.5" r="3.2" fill="#fff" stroke="#000" stroke-width="1.4"/>
<path d="M295.8 263.5L300.2 267.9M295.8 267.9L300.2 263.5" stroke="#000" stroke-width="1.3" fill="none"/>
<defs><linearGradient id="vg" x1="0" x2="1" y1="0" y2="0"><stop offset="0.0" stop-color="#440154"/><stop offset="0.1" stop-color="#482475"/><stop offset="0.2" stop-color="#414487"/><stop offset="0.3" stop-color="#355f8d"/><stop offset="0.4" stop-color="#2a788e"/><stop offset="0.5" stop-color="#21918c"/><stop offset="0.6" stop-color="#22a884"/><stop offset="0.7" stop-color="#44bf70"/><stop offset="0.8" stop-color="#7ad151"/><stop offset="0.9" stop-color="#bddf26"/><stop offset="1.0" stop-color="#fde725"/></linearGradient></defs>
<rect x="49.5" y="377.5" width="298.5" height="7" fill="url(#vg)" stroke="#222" stroke-width="0.8"/>
<path d="M106.6 384.5V382.5" stroke="#222" stroke-width="0.8"/>
<path d="M177.5 384.5V382.5" stroke="#222" stroke-width="0.8"/>
<path d="M248.4 384.5V382.5" stroke="#222" stroke-width="0.8"/>
<path d="M319.3 384.5V382.5" stroke="#222" stroke-width="0.8"/>
<text x="-0.30" y="9.70" font-family="Liberation Serif" font-size="12.50" textLength="14.90" lengthAdjust="spacingAndGlyphs" fill="#000" stroke="#fff" stroke-width="0.08">(a)</text>
<text x="40.40" y="43.40" font-family="Liberation Serif" font-size="12.80" textLength="7.14" lengthAdjust="spacingAndGlyphs" fill="#000" stroke="#fff" stroke-width="0.08">1</text>
<text x="40.60" y="82.70" font-family="Liberation Serif" font-size="12.80" textLength="6.36" lengthAdjust="spacingAndGlyphs" fill="#000" stroke="#fff" stroke-width="0.08">0</text>
<text x="36.40" y="121.20" font-family="Liberation Serif" font-size="12.80" textLength="11.42" lengthAdjust="spacingAndGlyphs" fill="#000" stroke="#fff" stroke-width="0.08">-1</text>
<text x="60.40" y="157.40" font-family="Liberation Serif" font-size="12.80" textLength="7.42" lengthAdjust="spacingAndGlyphs" fill="#000" stroke="#fff" stroke-width="0.08">2</text>
<text x="142.50" y="157.70" font-family="Liberation Serif" font-size="12.80" textLength="17.05" lengthAdjust="spacingAndGlyphs" fill="#000" stroke="#fff" stroke-width="0.08">2.5</text>
<text x="235.10" y="157.40" font-family="Liberation Serif" font-size="12.80" textLength="6.80" lengthAdjust="spacingAndGlyphs" fill="#000" stroke="#fff" stroke-width="0.08">3</text>
<text x="317.70" y="156.70" font-family="Liberation Serif" font-size="12.80" textLength="15.28" lengthAdjust="spacingAndGlyphs" fill="#000" stroke="#fff" stroke-width="0.08">3.5</text>
<text x="144.40" y="174.50" font-family="Liberation Serif" font-size="13.20" textLength="108.44" lengthAdjust="spacingAndGlyphs" fill="#000" stroke="#fff" stroke-width="0.08">pulse delay <tspan font-style="italic">τ</tspan> (<tspan font-style="italic">μs</tspan>)</text>
<text transform="translate(29.70 113.30) rotate(-90)" font-family="Liberation Serif" font-size="13.20" textLength="70.53" lengthAdjust="spacingAndGlyphs" fill="#000" stroke="#fff" stroke-width="0.08">polarisation</text>
<text x="302.80" y="27.60" font-family="Liberation Serif" font-size="11.50" textLength="18.76" lengthAdjust="spacingAndGlyphs" fill="#000" stroke="#fff" stroke-width="0.08">min</text>
<text x="302.80" y="39.90" font-family="Liberation Serif" font-size="11.50" textLength="13.08" lengthAdjust="spacingAndGlyphs" fill="#000" stroke="#fff" stroke-width="0.08">int</text>
<text x="302.80" y="51.40" font-family="Liberation Serif" font-size="11.50" textLength="21.15" lengthAdjust="spacingAndGlyphs" fill="#000" stroke="#fff" stroke-width="0.08">max</text>
<text x="-0.30" y="181.50" font-family="Liberation Serif" font-size="12.50" textLength="15.28" lengthAdjust="spacingAndGlyphs" fill="#000" stroke="#fff" stroke-width="0.08">(b)</text>
<text x="34.60" y="189.20" font-family="Liberation Serif" font-size="13.20" textLength="12.42" lengthAdjust="spacingAndGlyphs" fill="#000" stroke="#fff" stroke-width="0.08">90</text>
<text x="34.60" y="226.50" font-family="Liberation Serif" font-size="13.20" textLength="13.16" lengthAdjust="spacingAndGlyphs" fill="#000" stroke="#fff" stroke-width="0.08">45</text>
<text x="40.60" y="263.70" font-family="Liberation Serif" font-size="13.20" textLength="6.08" lengthAdjust="spacingAndGlyphs" fill="#000" stroke="#fff" stroke-width="0.08">0</text>
<text x="30.20" y="301.00" font-family="Liberation Serif" font-size="13.20" textLength="16.38" lengthAdjust="spacingAndGlyphs" fill="#000" stroke="#fff" stroke-width="0.08">-45</text>
<text x="30.20" y="338.40" font-family="Liberation Serif" font-size="13.20" textLength="16.38" lengthAdjust="spacingAndGlyphs" fill="#000" stroke="#fff" stroke-width="0.08">-90</text>
<text x="185.70" y="202.20" font-family="Liberation Serif" font-size="12.50" textLength="27.08" lengthAdjust="spacingAndGlyphs" fill="#000" stroke="#fff" stroke-width="0.08">BEC</text>
<text x="39.70" y="347.70" font-family="Liberation Serif" font-size="13.20" textLength="21.58" lengthAdjust="spacingAndGlyphs" fill="#000" stroke="#fff" stroke-width="0.08">-180</text>
<text x="115.60" y="348.40" font-family="Liberation Serif" font-size="13.20" textLength="17.96" lengthAdjust="spacingAndGlyphs" fill="#000" stroke="#fff" stroke-width="0.08">-90</text>
<text x="195.70" y="348.40" font-family="Liberation Serif" font-size="13.20" textLength="6.39" lengthAdjust="spacingAndGlyphs" fill="#000" stroke="#fff" stroke-width="0.08">0</text>
<text x="267.30" y="347.90" font-family="Liberation Serif" font-size="13.20" textLength="12.74" lengthAdjust="spacingAndGlyphs" fill="#000" stroke="#fff" stroke-width="0.08">90</text>
<text x="337.90" y="347.80" font-family="Liberation Serif" font-size="13.20" textLength="18.59" lengthAdjust="spacingAndGlyphs" fill="#000" stroke="#fff" stroke-width="0.08">180</text>
<text x="177.20" y="362.50" font-family="Liberation Serif" font-size="13.20" textLength="43.55" lengthAdjust="spacingAndGlyphs" fill="#000" stroke="#fff" stroke-width="0.08"><tspan font-style="italic">θ</tspan> (deg)</text>
<text transform="translate(24.90 282.40) rotate(-90)" font-family="Liberation Serif" font-size="13.20" textLength="45.28" lengthAdjust="spacingAndGlyphs" fill="#000" stroke="#fff" stroke-width="0.08"><tspan font-style="italic">ϕ</tspan> (deg)</text>
<text x="92.00" y="401.10" font-family="Liberation Serif" font-size="12.00" textLength="29.14" lengthAdjust="spacingAndGlyphs" fill="#000" stroke="#fff" stroke-width="0.08">0.525</text>
<text x="166.00" y="401.80" font-family="Liberation Serif" font-size="12.00" textLength="23.59" lengthAdjust="spacingAndGlyphs" fill="#000" stroke="#fff" stroke-width="0.08">0.53</text>
<text x="234.20" y="400.60" font-family="Liberation Serif" font-size="12.00" textLength="29.66" lengthAdjust="spacingAndGlyphs" fill="#000" stroke="#fff" stroke-width="0.08">0.535</text>
<text x="307.90" y="402.00" font-family="Liberation Serif" font-size="12.00" textLength="22.96" lengthAdjust="spacingAndGlyphs" fill="#000" stroke="#fff" stroke-width="0.08">0.54</text>
<text x="182.80" y="417.40" font-family="Liberation Serif" font-size="12.00" textLength="31.85" lengthAdjust="spacingAndGlyphs" fill="#000" stroke="#fff" stroke-width="0.08">B (G)</text>
</svg>
</body></html>
